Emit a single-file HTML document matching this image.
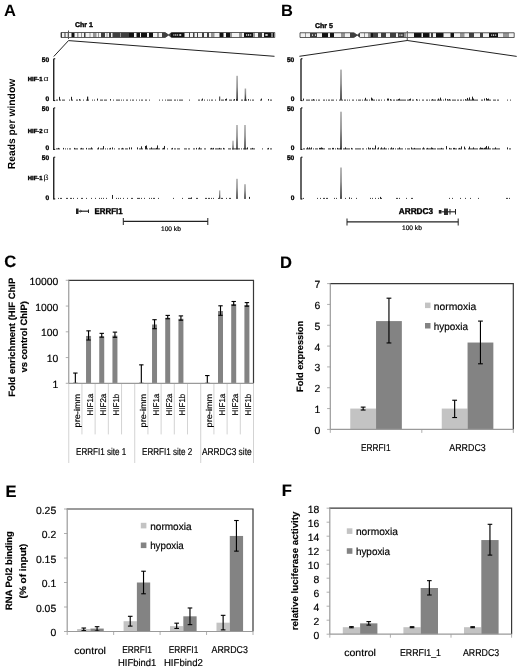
<!DOCTYPE html>
<html><head><meta charset="utf-8"><title>Figure</title><style>
html,body{margin:0;padding:0;background:#fff;width:520px;height:671px;overflow:hidden}
svg{display:block;filter:blur(0.4px)}
text{font-family:"Liberation Sans",sans-serif;fill:#000;text-rendering:geometricPrecision}
.sb{stroke:#000;stroke-width:0.35px}
.sr{stroke:#000;stroke-width:0.2px}
.ct text{stroke:#000;stroke-width:0.18px}
</style></head><body>
<svg width="520" height="671" viewBox="0 0 520 671">
<rect width="520" height="671" fill="#fff"/>
<clipPath id="c1"><path d="M61,32.5 H165.2 L168.6,35.0 L171.4,32.5 H274.75 V37.5 H171.4 L168.6,35.0 L165.2,37.5 H61 Z"/></clipPath>
<g clip-path="url(#c1)">
<rect x="61.00" y="32.50" width="213.75" height="5.00" fill="#f2f2f2"/>
<rect x="61.00" y="32.50" width="1.00" height="5.00" fill="#404040"/>
<rect x="64.00" y="32.50" width="2.00" height="5.00" fill="#959595"/>
<rect x="67.50" y="32.50" width="1.00" height="5.00" fill="#959595"/>
<rect x="71.50" y="32.50" width="3.00" height="5.00" fill="#111"/>
<rect x="77.00" y="32.50" width="1.50" height="5.00" fill="#959595"/>
<rect x="81.00" y="32.50" width="1.00" height="5.00" fill="#959595"/>
<rect x="84.00" y="32.50" width="1.50" height="5.00" fill="#404040"/>
<rect x="89.50" y="32.50" width="1.00" height="5.00" fill="#959595"/>
<rect x="93.00" y="32.50" width="3.50" height="5.00" fill="#959595"/>
<rect x="98.00" y="32.50" width="1.00" height="5.00" fill="#959595"/>
<rect x="101.00" y="32.50" width="4.00" height="5.00" fill="#404040"/>
<rect x="106.50" y="32.50" width="1.00" height="5.00" fill="#959595"/>
<rect x="109.00" y="32.50" width="2.00" height="5.00" fill="#404040"/>
<rect x="112.50" y="32.50" width="7.50" height="5.00" fill="#404040"/>
<rect x="120.00" y="32.50" width="1.00" height="5.00" fill="#959595"/>
<rect x="121.00" y="32.50" width="8.00" height="5.00" fill="#404040"/>
<rect x="129.00" y="32.50" width="5.00" height="5.00" fill="#111"/>
<rect x="136.50" y="32.50" width="3.50" height="5.00" fill="#111"/>
<rect x="141.00" y="32.50" width="6.00" height="5.00" fill="#111"/>
<rect x="149.00" y="32.50" width="4.00" height="5.00" fill="#111"/>
<rect x="157.00" y="32.50" width="2.00" height="5.00" fill="#959595"/>
<rect x="162.00" y="32.50" width="6.30" height="5.00" fill="#404040"/>
<rect x="168.30" y="32.50" width="2.70" height="5.00" fill="#404040"/>
<rect x="171.00" y="32.50" width="13.50" height="5.00" fill="#111"/>
<rect x="189.00" y="32.50" width="1.00" height="5.00" fill="#404040"/>
<rect x="193.00" y="32.50" width="1.50" height="5.00" fill="#404040"/>
<rect x="197.00" y="32.50" width="1.00" height="5.00" fill="#404040"/>
<rect x="202.00" y="32.50" width="2.00" height="5.00" fill="#404040"/>
<rect x="207.00" y="32.50" width="2.00" height="5.00" fill="#404040"/>
<rect x="211.00" y="32.50" width="3.50" height="5.00" fill="#959595"/>
<rect x="219.50" y="32.50" width="4.00" height="5.00" fill="#111"/>
<rect x="226.00" y="32.50" width="4.00" height="5.00" fill="#111"/>
<rect x="230.00" y="32.50" width="2.00" height="5.00" fill="#959595"/>
<rect x="239.00" y="32.50" width="3.00" height="5.00" fill="#959595"/>
<rect x="244.00" y="32.50" width="9.00" height="5.00" fill="#111"/>
<rect x="253.00" y="32.50" width="2.00" height="5.00" fill="#959595"/>
<rect x="258.00" y="32.50" width="4.00" height="5.00" fill="#404040"/>
<rect x="264.00" y="32.50" width="6.00" height="5.00" fill="#111"/>
<rect x="270.00" y="32.50" width="1.50" height="5.00" fill="#111"/>
<rect x="272.50" y="32.50" width="1.50" height="5.00" fill="#111"/>
<rect x="173.50" y="34.10" width="0.80" height="1.80" fill="#d8d8d8"/>
<rect x="175.30" y="34.10" width="1.00" height="1.80" fill="#d8d8d8"/>
<rect x="177.30" y="34.10" width="0.80" height="1.80" fill="#d8d8d8"/>
<rect x="179.30" y="34.10" width="1.90" height="1.80" fill="#d8d8d8"/>
<rect x="246.00" y="34.10" width="0.80" height="1.80" fill="#d8d8d8"/>
<rect x="247.80" y="34.10" width="1.40" height="1.80" fill="#d8d8d8"/>
<rect x="250.30" y="34.10" width="0.90" height="1.80" fill="#d8d8d8"/>
<rect x="265.30" y="34.10" width="0.60" height="1.80" fill="#d8d8d8"/>
<rect x="267.20" y="34.10" width="0.60" height="1.80" fill="#d8d8d8"/>
<rect x="265.90" y="34.10" width="1.30" height="1.80" fill="#d8d8d8"/>
</g>
<path d="M61,32.5 H165.2 L168.6,35.0 L171.4,32.5 H274.75 V37.5 H171.4 L168.6,35.0 L165.2,37.5 H61 Z" fill="none" stroke="#333" stroke-width="0.8" stroke-linejoin="miter"/>
<clipPath id="c5"><path d="M300,32.75 H353.90000000000003 L357.3,35.125 L360.1,32.75 H514.2 V37.5 H360.1 L357.3,35.125 L353.90000000000003,37.5 H300 Z"/></clipPath>
<g clip-path="url(#c5)">
<rect x="300.00" y="32.75" width="214.20" height="4.75" fill="#f2f2f2"/>
<rect x="305.00" y="32.75" width="1.00" height="4.75" fill="#959595"/>
<rect x="310.00" y="32.75" width="7.00" height="4.75" fill="#404040"/>
<rect x="322.00" y="32.75" width="6.00" height="4.75" fill="#111"/>
<rect x="330.00" y="32.75" width="4.00" height="4.75" fill="#111"/>
<rect x="341.00" y="32.75" width="4.00" height="4.75" fill="#959595"/>
<rect x="350.00" y="32.75" width="7.00" height="4.75" fill="#404040"/>
<rect x="357.50" y="32.75" width="2.50" height="4.75" fill="#404040"/>
<rect x="364.00" y="32.75" width="1.00" height="4.75" fill="#959595"/>
<rect x="368.00" y="32.75" width="2.50" height="4.75" fill="#959595"/>
<rect x="370.50" y="32.75" width="2.50" height="4.75" fill="#111"/>
<rect x="373.00" y="32.75" width="5.00" height="4.75" fill="#404040"/>
<rect x="381.00" y="32.75" width="5.00" height="4.75" fill="#404040"/>
<rect x="390.00" y="32.75" width="6.00" height="4.75" fill="#404040"/>
<rect x="398.00" y="32.75" width="6.00" height="4.75" fill="#404040"/>
<rect x="404.00" y="32.75" width="2.00" height="4.75" fill="#959595"/>
<rect x="414.00" y="32.75" width="7.50" height="4.75" fill="#111"/>
<rect x="423.00" y="32.75" width="6.50" height="4.75" fill="#111"/>
<rect x="431.00" y="32.75" width="2.00" height="4.75" fill="#404040"/>
<rect x="436.00" y="32.75" width="7.50" height="4.75" fill="#111"/>
<rect x="450.50" y="32.75" width="3.50" height="4.75" fill="#111"/>
<rect x="460.00" y="32.75" width="4.50" height="4.75" fill="#959595"/>
<rect x="469.00" y="32.75" width="5.00" height="4.75" fill="#404040"/>
<rect x="480.00" y="32.75" width="3.00" height="4.75" fill="#404040"/>
<rect x="489.00" y="32.75" width="9.00" height="4.75" fill="#111"/>
<rect x="503.00" y="32.75" width="6.00" height="4.75" fill="#959595"/>
<rect x="491.00" y="34.35" width="0.80" height="1.55" fill="#d8d8d8"/>
<rect x="492.80" y="34.35" width="1.40" height="1.55" fill="#d8d8d8"/>
<rect x="495.20" y="34.35" width="1.00" height="1.55" fill="#d8d8d8"/>
<rect x="399.50" y="34.35" width="0.80" height="1.55" fill="#d8d8d8"/>
<rect x="401.20" y="34.35" width="1.30" height="1.55" fill="#d8d8d8"/>
<rect x="315.00" y="34.35" width="1.00" height="1.55" fill="#d8d8d8"/>
<rect x="312.00" y="34.35" width="1.00" height="1.55" fill="#d8d8d8"/>
</g>
<path d="M300,32.75 H353.90000000000003 L357.3,35.125 L360.1,32.75 H514.2 V37.5 H360.1 L357.3,35.125 L353.90000000000003,37.5 H300 Z" fill="none" stroke="#333" stroke-width="0.8" stroke-linejoin="miter"/>
<line x1="68.5" y1="30.5" x2="68.5" y2="39" stroke="#555" stroke-width="1"/>
<line x1="407.25" y1="31" x2="407.25" y2="41" stroke="#555" stroke-width="1"/>
<polyline points="53.75,56.5 68.5,40.6 274.5,56.3" fill="none" stroke="#222" stroke-width="1"/>
<polyline points="299.4,56.3 407.25,40.5 516.7,56.4" fill="none" stroke="#222" stroke-width="1"/>
<text x="4" y="16" font-size="16.5" font-weight="bold" >A</text>
<text x="281" y="16" font-size="16.5" font-weight="bold" >B</text>
<text x="75" y="27.3" font-size="7" font-weight="bold" class="sb">Chr 1</text>
<text x="315" y="28.2" font-size="7" font-weight="bold" class="sb">Chr 5</text>
<defs><linearGradient id="pk" x1="0" y1="0" x2="0" y2="1"><stop offset="0" stop-color="#a8a8a8"/><stop offset="0.45" stop-color="#808080"/><stop offset="0.7" stop-color="#505050"/><stop offset="0.9" stop-color="#333"/><stop offset="1" stop-color="#1a1a1a"/></linearGradient></defs>
<line x1="53.75" y1="58.75" x2="53.75" y2="101.1" stroke="#111" stroke-width="1.3"/>
<line x1="53.75" y1="58.75" x2="55.25" y2="58.75" stroke="#111" stroke-width="1"/>
<line x1="53.75" y1="100.6" x2="55.25" y2="100.6" stroke="#111" stroke-width="1"/>
<text x="49.2" y="61.75" font-size="6.6" font-weight="bold" text-anchor="end" class="sb">50</text>
<text x="49.2" y="101.39999999999999" font-size="6.6" font-weight="bold" text-anchor="end" class="sb">0</text>
<text x="27.8" y="80.8" font-size="5.9" font-weight="bold" stroke="#000" stroke-width="0.4" textLength="14.7" lengthAdjust="spacing">HIF-1</text>
<text x="43.6" y="80.8" font-size="7.6" textLength="5.0" lengthAdjust="spacingAndGlyphs">α</text>
<line x1="301" y1="58.75" x2="301" y2="101.1" stroke="#111" stroke-width="1.3"/>
<line x1="301" y1="58.75" x2="302.5" y2="58.75" stroke="#111" stroke-width="1"/>
<line x1="301" y1="100.6" x2="302.5" y2="100.6" stroke="#111" stroke-width="1"/>
<text x="294.3" y="61.75" font-size="6.6" font-weight="bold" text-anchor="end" class="sb">50</text>
<text x="294.3" y="101.39999999999999" font-size="6.6" font-weight="bold" text-anchor="end" class="sb">0</text>
<rect x="56.00" y="99.60" width="1.00" height="1.00" fill="#3a3a3a"/>
<rect x="57.00" y="99.60" width="1.00" height="1.00" fill="#3a3a3a"/>
<rect x="59.00" y="96.84" width="1.00" height="3.76" fill="#222"/>
<rect x="60.00" y="99.60" width="1.00" height="1.00" fill="#3a3a3a"/>
<rect x="62.00" y="99.60" width="1.00" height="1.00" fill="#3a3a3a"/>
<rect x="63.00" y="99.60" width="1.00" height="1.00" fill="#3a3a3a"/>
<rect x="64.00" y="99.60" width="1.00" height="1.00" fill="#3a3a3a"/>
<rect x="69.00" y="99.60" width="1.00" height="1.00" fill="#3a3a3a"/>
<rect x="71.00" y="96.80" width="1.00" height="3.80" fill="#222"/>
<rect x="72.00" y="99.60" width="1.00" height="1.00" fill="#3a3a3a"/>
<rect x="76.00" y="99.60" width="1.00" height="1.00" fill="#3a3a3a"/>
<rect x="77.00" y="99.60" width="1.00" height="1.00" fill="#3a3a3a"/>
<rect x="79.00" y="99.10" width="1.00" height="1.50" fill="#222"/>
<rect x="80.00" y="99.60" width="1.00" height="1.00" fill="#3a3a3a"/>
<rect x="83.00" y="99.60" width="1.00" height="1.00" fill="#3a3a3a"/>
<rect x="86.00" y="99.60" width="1.00" height="1.00" fill="#3a3a3a"/>
<rect x="87.00" y="99.60" width="1.00" height="1.00" fill="#3a3a3a"/>
<rect x="88.00" y="99.60" width="1.00" height="1.00" fill="#3a3a3a"/>
<rect x="92.00" y="99.60" width="1.00" height="1.00" fill="#3a3a3a"/>
<rect x="94.00" y="99.60" width="1.00" height="1.00" fill="#3a3a3a"/>
<rect x="97.00" y="98.60" width="1.00" height="2.00" fill="#222"/>
<rect x="100.00" y="99.60" width="1.00" height="1.00" fill="#3a3a3a"/>
<rect x="101.00" y="99.60" width="1.00" height="1.00" fill="#3a3a3a"/>
<rect x="102.00" y="99.60" width="1.00" height="1.00" fill="#3a3a3a"/>
<rect x="104.00" y="99.60" width="1.00" height="1.00" fill="#3a3a3a"/>
<rect x="105.00" y="99.60" width="1.00" height="1.00" fill="#3a3a3a"/>
<rect x="106.00" y="99.60" width="1.00" height="1.00" fill="#3a3a3a"/>
<rect x="110.00" y="99.10" width="1.00" height="1.50" fill="#222"/>
<rect x="113.00" y="99.60" width="1.00" height="1.00" fill="#3a3a3a"/>
<rect x="116.00" y="99.60" width="1.00" height="1.00" fill="#3a3a3a"/>
<rect x="117.00" y="99.60" width="1.00" height="1.00" fill="#3a3a3a"/>
<rect x="118.00" y="99.60" width="1.00" height="1.00" fill="#3a3a3a"/>
<rect x="119.00" y="99.60" width="1.00" height="1.00" fill="#3a3a3a"/>
<rect x="121.00" y="99.60" width="1.00" height="1.00" fill="#3a3a3a"/>
<rect x="123.00" y="99.60" width="1.00" height="1.00" fill="#3a3a3a"/>
<rect x="126.00" y="99.60" width="1.00" height="1.00" fill="#3a3a3a"/>
<rect x="127.00" y="99.60" width="1.00" height="1.00" fill="#3a3a3a"/>
<rect x="130.00" y="99.60" width="1.00" height="1.00" fill="#3a3a3a"/>
<rect x="132.00" y="99.60" width="1.00" height="1.00" fill="#3a3a3a"/>
<rect x="133.00" y="99.60" width="1.00" height="1.00" fill="#3a3a3a"/>
<rect x="136.00" y="99.60" width="1.00" height="1.00" fill="#3a3a3a"/>
<rect x="139.00" y="99.60" width="1.00" height="1.00" fill="#3a3a3a"/>
<rect x="141.00" y="99.60" width="1.00" height="1.00" fill="#3a3a3a"/>
<rect x="142.00" y="99.60" width="1.00" height="1.00" fill="#3a3a3a"/>
<rect x="145.00" y="99.60" width="1.00" height="1.00" fill="#3a3a3a"/>
<rect x="146.00" y="99.60" width="1.00" height="1.00" fill="#3a3a3a"/>
<rect x="149.00" y="99.60" width="1.00" height="1.00" fill="#3a3a3a"/>
<rect x="159.00" y="99.60" width="1.00" height="1.00" fill="#3a3a3a"/>
<rect x="162.00" y="99.60" width="1.00" height="1.00" fill="#3a3a3a"/>
<rect x="165.00" y="99.60" width="1.00" height="1.00" fill="#3a3a3a"/>
<rect x="167.00" y="99.60" width="1.00" height="1.00" fill="#3a3a3a"/>
<rect x="168.00" y="99.60" width="1.00" height="1.00" fill="#3a3a3a"/>
<rect x="169.00" y="99.60" width="1.00" height="1.00" fill="#3a3a3a"/>
<rect x="170.00" y="99.60" width="1.00" height="1.00" fill="#3a3a3a"/>
<rect x="171.00" y="99.60" width="1.00" height="1.00" fill="#3a3a3a"/>
<rect x="174.00" y="99.60" width="1.00" height="1.00" fill="#3a3a3a"/>
<rect x="175.00" y="99.60" width="1.00" height="1.00" fill="#3a3a3a"/>
<rect x="177.00" y="99.60" width="1.00" height="1.00" fill="#3a3a3a"/>
<rect x="179.00" y="99.60" width="1.00" height="1.00" fill="#3a3a3a"/>
<rect x="180.00" y="99.60" width="1.00" height="1.00" fill="#3a3a3a"/>
<rect x="181.00" y="99.60" width="1.00" height="1.00" fill="#3a3a3a"/>
<rect x="182.00" y="99.60" width="1.00" height="1.00" fill="#3a3a3a"/>
<rect x="189.00" y="99.60" width="1.00" height="1.00" fill="#3a3a3a"/>
<rect x="198.00" y="99.60" width="1.00" height="1.00" fill="#3a3a3a"/>
<rect x="199.00" y="99.60" width="1.00" height="1.00" fill="#3a3a3a"/>
<rect x="201.00" y="99.60" width="1.00" height="1.00" fill="#3a3a3a"/>
<rect x="202.00" y="98.60" width="1.00" height="2.00" fill="#222"/>
<rect x="204.00" y="99.60" width="1.00" height="1.00" fill="#3a3a3a"/>
<rect x="207.00" y="99.60" width="1.00" height="1.00" fill="#3a3a3a"/>
<rect x="209.00" y="99.60" width="1.00" height="1.00" fill="#3a3a3a"/>
<rect x="211.00" y="99.60" width="1.00" height="1.00" fill="#3a3a3a"/>
<rect x="212.00" y="99.60" width="1.00" height="1.00" fill="#3a3a3a"/>
<rect x="215.00" y="99.60" width="1.00" height="1.00" fill="#3a3a3a"/>
<rect x="219.00" y="99.60" width="1.00" height="1.00" fill="#3a3a3a"/>
<rect x="221.00" y="99.60" width="1.00" height="1.00" fill="#3a3a3a"/>
<rect x="222.00" y="99.60" width="1.00" height="1.00" fill="#3a3a3a"/>
<rect x="223.00" y="99.60" width="1.00" height="1.00" fill="#3a3a3a"/>
<rect x="225.00" y="99.10" width="1.00" height="1.50" fill="#222"/>
<rect x="226.00" y="98.60" width="1.00" height="2.00" fill="#222"/>
<rect x="229.00" y="99.60" width="1.00" height="1.00" fill="#3a3a3a"/>
<rect x="230.00" y="99.60" width="1.00" height="1.00" fill="#3a3a3a"/>
<rect x="231.00" y="99.60" width="1.00" height="1.00" fill="#3a3a3a"/>
<rect x="233.00" y="99.60" width="1.00" height="1.00" fill="#3a3a3a"/>
<rect x="234.00" y="99.10" width="1.00" height="1.50" fill="#222"/>
<rect x="236.00" y="99.10" width="1.00" height="1.50" fill="#222"/>
<rect x="237.00" y="99.60" width="1.00" height="1.00" fill="#3a3a3a"/>
<rect x="241.00" y="99.60" width="1.00" height="1.00" fill="#3a3a3a"/>
<rect x="242.00" y="99.60" width="1.00" height="1.00" fill="#3a3a3a"/>
<rect x="244.00" y="99.60" width="1.00" height="1.00" fill="#3a3a3a"/>
<rect x="245.00" y="97.77" width="1.00" height="2.83" fill="#222"/>
<rect x="246.00" y="99.60" width="1.00" height="1.00" fill="#3a3a3a"/>
<rect x="248.00" y="99.10" width="1.00" height="1.50" fill="#222"/>
<rect x="250.00" y="99.60" width="1.00" height="1.00" fill="#3a3a3a"/>
<rect x="252.00" y="99.60" width="1.00" height="1.00" fill="#3a3a3a"/>
<rect x="253.00" y="99.60" width="1.00" height="1.00" fill="#3a3a3a"/>
<rect x="260.00" y="99.60" width="1.00" height="1.00" fill="#3a3a3a"/>
<rect x="261.00" y="98.60" width="1.00" height="2.00" fill="#222"/>
<rect x="268.00" y="99.10" width="1.00" height="1.50" fill="#222"/>
<rect x="270.00" y="99.60" width="1.00" height="1.00" fill="#3a3a3a"/>
<rect x="271.00" y="99.60" width="1.00" height="1.00" fill="#3a3a3a"/>
<rect x="303.00" y="98.60" width="1.00" height="2.00" fill="#222"/>
<rect x="306.00" y="99.60" width="1.00" height="1.00" fill="#3a3a3a"/>
<rect x="307.00" y="99.60" width="1.00" height="1.00" fill="#3a3a3a"/>
<rect x="308.00" y="99.60" width="1.00" height="1.00" fill="#3a3a3a"/>
<rect x="309.00" y="99.60" width="1.00" height="1.00" fill="#3a3a3a"/>
<rect x="311.00" y="99.60" width="1.00" height="1.00" fill="#3a3a3a"/>
<rect x="312.00" y="99.60" width="1.00" height="1.00" fill="#3a3a3a"/>
<rect x="313.00" y="99.10" width="1.00" height="1.50" fill="#222"/>
<rect x="314.00" y="99.60" width="1.00" height="1.00" fill="#3a3a3a"/>
<rect x="316.00" y="99.60" width="1.00" height="1.00" fill="#3a3a3a"/>
<rect x="318.00" y="99.60" width="1.00" height="1.00" fill="#3a3a3a"/>
<rect x="319.00" y="99.60" width="1.00" height="1.00" fill="#3a3a3a"/>
<rect x="323.00" y="99.60" width="1.00" height="1.00" fill="#3a3a3a"/>
<rect x="324.00" y="99.60" width="1.00" height="1.00" fill="#3a3a3a"/>
<rect x="326.00" y="99.60" width="1.00" height="1.00" fill="#3a3a3a"/>
<rect x="328.00" y="99.60" width="1.00" height="1.00" fill="#3a3a3a"/>
<rect x="329.00" y="99.60" width="1.00" height="1.00" fill="#3a3a3a"/>
<rect x="331.00" y="99.60" width="1.00" height="1.00" fill="#3a3a3a"/>
<rect x="332.00" y="99.60" width="1.00" height="1.00" fill="#3a3a3a"/>
<rect x="333.00" y="99.60" width="1.00" height="1.00" fill="#3a3a3a"/>
<rect x="336.00" y="99.60" width="1.00" height="1.00" fill="#3a3a3a"/>
<rect x="339.00" y="99.60" width="1.00" height="1.00" fill="#3a3a3a"/>
<rect x="342.00" y="99.60" width="1.00" height="1.00" fill="#3a3a3a"/>
<rect x="344.00" y="99.60" width="1.00" height="1.00" fill="#3a3a3a"/>
<rect x="345.00" y="99.60" width="1.00" height="1.00" fill="#3a3a3a"/>
<rect x="347.00" y="99.60" width="1.00" height="1.00" fill="#3a3a3a"/>
<rect x="349.00" y="99.60" width="1.00" height="1.00" fill="#3a3a3a"/>
<rect x="352.00" y="99.60" width="1.00" height="1.00" fill="#3a3a3a"/>
<rect x="353.00" y="99.60" width="1.00" height="1.00" fill="#3a3a3a"/>
<rect x="356.00" y="99.60" width="1.00" height="1.00" fill="#3a3a3a"/>
<rect x="358.00" y="99.60" width="1.00" height="1.00" fill="#3a3a3a"/>
<rect x="359.00" y="99.60" width="1.00" height="1.00" fill="#3a3a3a"/>
<rect x="360.00" y="99.60" width="1.00" height="1.00" fill="#3a3a3a"/>
<rect x="362.00" y="99.60" width="1.00" height="1.00" fill="#3a3a3a"/>
<rect x="364.00" y="99.60" width="1.00" height="1.00" fill="#3a3a3a"/>
<rect x="365.00" y="97.83" width="1.00" height="2.77" fill="#222"/>
<rect x="366.00" y="99.60" width="1.00" height="1.00" fill="#3a3a3a"/>
<rect x="367.00" y="99.60" width="1.00" height="1.00" fill="#3a3a3a"/>
<rect x="369.00" y="99.60" width="1.00" height="1.00" fill="#3a3a3a"/>
<rect x="371.00" y="97.60" width="1.00" height="3.00" fill="#222"/>
<rect x="372.00" y="98.60" width="1.00" height="2.00" fill="#222"/>
<rect x="373.00" y="99.60" width="1.00" height="1.00" fill="#3a3a3a"/>
<rect x="374.00" y="99.60" width="1.00" height="1.00" fill="#3a3a3a"/>
<rect x="376.00" y="99.60" width="1.00" height="1.00" fill="#3a3a3a"/>
<rect x="378.00" y="99.60" width="1.00" height="1.00" fill="#3a3a3a"/>
<rect x="379.00" y="99.60" width="1.00" height="1.00" fill="#3a3a3a"/>
<rect x="381.00" y="99.60" width="1.00" height="1.00" fill="#3a3a3a"/>
<rect x="384.00" y="99.60" width="1.00" height="1.00" fill="#3a3a3a"/>
<rect x="387.00" y="98.60" width="1.00" height="2.00" fill="#222"/>
<rect x="388.00" y="98.60" width="1.00" height="2.00" fill="#222"/>
<rect x="390.00" y="99.10" width="1.00" height="1.50" fill="#222"/>
<rect x="391.00" y="99.60" width="1.00" height="1.00" fill="#3a3a3a"/>
<rect x="393.00" y="99.60" width="1.00" height="1.00" fill="#3a3a3a"/>
<rect x="394.00" y="99.60" width="1.00" height="1.00" fill="#3a3a3a"/>
<rect x="396.00" y="99.60" width="1.00" height="1.00" fill="#3a3a3a"/>
<rect x="397.00" y="99.60" width="1.00" height="1.00" fill="#3a3a3a"/>
<rect x="398.00" y="99.10" width="1.00" height="1.50" fill="#222"/>
<rect x="399.00" y="98.60" width="1.00" height="2.00" fill="#222"/>
<rect x="400.00" y="99.60" width="1.00" height="1.00" fill="#3a3a3a"/>
<rect x="401.00" y="99.60" width="1.00" height="1.00" fill="#3a3a3a"/>
<rect x="402.00" y="99.60" width="1.00" height="1.00" fill="#3a3a3a"/>
<rect x="403.00" y="99.60" width="1.00" height="1.00" fill="#3a3a3a"/>
<rect x="404.00" y="99.60" width="1.00" height="1.00" fill="#3a3a3a"/>
<rect x="405.00" y="99.60" width="1.00" height="1.00" fill="#3a3a3a"/>
<rect x="407.00" y="99.60" width="1.00" height="1.00" fill="#3a3a3a"/>
<rect x="408.00" y="99.60" width="1.00" height="1.00" fill="#3a3a3a"/>
<rect x="409.00" y="99.10" width="1.00" height="1.50" fill="#222"/>
<rect x="410.00" y="98.60" width="1.00" height="2.00" fill="#222"/>
<rect x="412.00" y="99.60" width="1.00" height="1.00" fill="#3a3a3a"/>
<rect x="413.00" y="99.60" width="1.00" height="1.00" fill="#3a3a3a"/>
<rect x="416.00" y="99.10" width="1.00" height="1.50" fill="#222"/>
<rect x="417.00" y="99.60" width="1.00" height="1.00" fill="#3a3a3a"/>
<rect x="419.00" y="99.60" width="1.00" height="1.00" fill="#3a3a3a"/>
<rect x="422.00" y="99.60" width="1.00" height="1.00" fill="#3a3a3a"/>
<rect x="423.00" y="99.60" width="1.00" height="1.00" fill="#3a3a3a"/>
<rect x="426.00" y="99.60" width="1.00" height="1.00" fill="#3a3a3a"/>
<rect x="427.00" y="99.60" width="1.00" height="1.00" fill="#3a3a3a"/>
<rect x="429.00" y="99.60" width="1.00" height="1.00" fill="#3a3a3a"/>
<rect x="431.00" y="99.60" width="1.00" height="1.00" fill="#3a3a3a"/>
<rect x="432.00" y="99.10" width="1.00" height="1.50" fill="#222"/>
<rect x="433.00" y="99.60" width="1.00" height="1.00" fill="#3a3a3a"/>
<rect x="434.00" y="99.60" width="1.00" height="1.00" fill="#3a3a3a"/>
<rect x="435.00" y="99.60" width="1.00" height="1.00" fill="#3a3a3a"/>
<rect x="437.00" y="99.60" width="1.00" height="1.00" fill="#3a3a3a"/>
<rect x="438.00" y="98.60" width="1.00" height="2.00" fill="#222"/>
<rect x="439.00" y="99.60" width="1.00" height="1.00" fill="#3a3a3a"/>
<rect x="440.00" y="97.59" width="1.00" height="3.01" fill="#222"/>
<rect x="441.00" y="99.60" width="1.00" height="1.00" fill="#3a3a3a"/>
<rect x="443.00" y="99.60" width="1.00" height="1.00" fill="#3a3a3a"/>
<rect x="445.00" y="98.60" width="1.00" height="2.00" fill="#222"/>
<rect x="447.00" y="99.10" width="1.00" height="1.50" fill="#222"/>
<rect x="448.00" y="99.60" width="1.00" height="1.00" fill="#3a3a3a"/>
<rect x="449.00" y="99.10" width="1.00" height="1.50" fill="#222"/>
<rect x="450.00" y="99.60" width="1.00" height="1.00" fill="#3a3a3a"/>
<rect x="452.00" y="99.60" width="1.00" height="1.00" fill="#3a3a3a"/>
<rect x="453.00" y="99.60" width="1.00" height="1.00" fill="#3a3a3a"/>
<rect x="454.00" y="99.60" width="1.00" height="1.00" fill="#3a3a3a"/>
<rect x="455.00" y="99.60" width="1.00" height="1.00" fill="#3a3a3a"/>
<rect x="457.00" y="99.60" width="1.00" height="1.00" fill="#3a3a3a"/>
<rect x="458.00" y="99.60" width="1.00" height="1.00" fill="#3a3a3a"/>
<rect x="460.00" y="99.60" width="1.00" height="1.00" fill="#3a3a3a"/>
<rect x="461.00" y="99.60" width="1.00" height="1.00" fill="#3a3a3a"/>
<rect x="463.00" y="99.60" width="1.00" height="1.00" fill="#3a3a3a"/>
<rect x="465.00" y="99.10" width="1.00" height="1.50" fill="#222"/>
<rect x="466.00" y="99.60" width="1.00" height="1.00" fill="#3a3a3a"/>
<rect x="467.00" y="97.93" width="1.00" height="2.67" fill="#222"/>
<rect x="468.00" y="99.60" width="1.00" height="1.00" fill="#3a3a3a"/>
<rect x="469.00" y="97.43" width="1.00" height="3.17" fill="#222"/>
<rect x="470.00" y="99.60" width="1.00" height="1.00" fill="#3a3a3a"/>
<rect x="471.00" y="99.60" width="1.00" height="1.00" fill="#3a3a3a"/>
<rect x="472.00" y="96.65" width="1.00" height="3.95" fill="#222"/>
<rect x="473.00" y="98.60" width="1.00" height="2.00" fill="#222"/>
<rect x="474.00" y="99.60" width="1.00" height="1.00" fill="#3a3a3a"/>
<rect x="475.00" y="99.60" width="1.00" height="1.00" fill="#3a3a3a"/>
<rect x="476.00" y="99.60" width="1.00" height="1.00" fill="#3a3a3a"/>
<rect x="477.00" y="99.60" width="1.00" height="1.00" fill="#3a3a3a"/>
<rect x="481.00" y="99.60" width="1.00" height="1.00" fill="#3a3a3a"/>
<rect x="482.00" y="99.60" width="1.00" height="1.00" fill="#3a3a3a"/>
<rect x="484.00" y="98.60" width="1.00" height="2.00" fill="#222"/>
<rect x="486.00" y="98.05" width="1.00" height="2.55" fill="#222"/>
<rect x="487.00" y="99.10" width="1.00" height="1.50" fill="#222"/>
<rect x="488.00" y="98.60" width="1.00" height="2.00" fill="#222"/>
<rect x="489.00" y="99.60" width="1.00" height="1.00" fill="#3a3a3a"/>
<rect x="490.00" y="99.60" width="1.00" height="1.00" fill="#3a3a3a"/>
<rect x="493.00" y="99.60" width="1.00" height="1.00" fill="#3a3a3a"/>
<rect x="494.00" y="99.60" width="1.00" height="1.00" fill="#3a3a3a"/>
<rect x="495.00" y="99.60" width="1.00" height="1.00" fill="#3a3a3a"/>
<rect x="497.00" y="99.60" width="1.00" height="1.00" fill="#3a3a3a"/>
<rect x="498.00" y="99.60" width="1.00" height="1.00" fill="#3a3a3a"/>
<rect x="507.00" y="99.60" width="1.00" height="1.00" fill="#3a3a3a"/>
<rect x="510.00" y="99.60" width="1.00" height="1.00" fill="#3a3a3a"/>
<line x1="53.75" y1="107.9" x2="53.75" y2="149.9" stroke="#111" stroke-width="1.3"/>
<line x1="53.75" y1="107.9" x2="55.25" y2="107.9" stroke="#111" stroke-width="1"/>
<line x1="53.75" y1="149.4" x2="55.25" y2="149.4" stroke="#111" stroke-width="1"/>
<text x="49.2" y="110.7" font-size="6.6" font-weight="bold" text-anchor="end" class="sb">50</text>
<text x="49.2" y="150.10000000000002" font-size="6.6" font-weight="bold" text-anchor="end" class="sb">0</text>
<text x="27.8" y="132.6" font-size="5.9" font-weight="bold" stroke="#000" stroke-width="0.4" textLength="14.7" lengthAdjust="spacing">HIF-2</text>
<text x="43.6" y="132.6" font-size="7.6" textLength="5.0" lengthAdjust="spacingAndGlyphs">α</text>
<line x1="301" y1="107.9" x2="301" y2="149.9" stroke="#111" stroke-width="1.3"/>
<line x1="301" y1="107.9" x2="302.5" y2="107.9" stroke="#111" stroke-width="1"/>
<line x1="301" y1="149.4" x2="302.5" y2="149.4" stroke="#111" stroke-width="1"/>
<text x="294.3" y="110.7" font-size="6.6" font-weight="bold" text-anchor="end" class="sb">50</text>
<text x="294.3" y="150.10000000000002" font-size="6.6" font-weight="bold" text-anchor="end" class="sb">0</text>
<rect x="56.00" y="148.40" width="1.00" height="1.00" fill="#3a3a3a"/>
<rect x="57.00" y="148.40" width="1.00" height="1.00" fill="#3a3a3a"/>
<rect x="58.00" y="147.90" width="1.00" height="1.50" fill="#222"/>
<rect x="59.00" y="148.40" width="1.00" height="1.00" fill="#3a3a3a"/>
<rect x="63.00" y="147.90" width="1.00" height="1.50" fill="#222"/>
<rect x="65.00" y="148.40" width="1.00" height="1.00" fill="#3a3a3a"/>
<rect x="67.00" y="148.40" width="1.00" height="1.00" fill="#3a3a3a"/>
<rect x="69.00" y="148.40" width="1.00" height="1.00" fill="#3a3a3a"/>
<rect x="70.00" y="148.40" width="1.00" height="1.00" fill="#3a3a3a"/>
<rect x="74.00" y="147.90" width="1.00" height="1.50" fill="#222"/>
<rect x="75.00" y="148.40" width="1.00" height="1.00" fill="#3a3a3a"/>
<rect x="76.00" y="148.40" width="1.00" height="1.00" fill="#3a3a3a"/>
<rect x="77.00" y="148.40" width="1.00" height="1.00" fill="#3a3a3a"/>
<rect x="80.00" y="148.40" width="1.00" height="1.00" fill="#3a3a3a"/>
<rect x="81.00" y="147.90" width="1.00" height="1.50" fill="#222"/>
<rect x="82.00" y="148.40" width="1.00" height="1.00" fill="#3a3a3a"/>
<rect x="83.00" y="148.40" width="1.00" height="1.00" fill="#3a3a3a"/>
<rect x="86.00" y="147.90" width="1.00" height="1.50" fill="#222"/>
<rect x="88.00" y="148.40" width="1.00" height="1.00" fill="#3a3a3a"/>
<rect x="89.00" y="148.40" width="1.00" height="1.00" fill="#3a3a3a"/>
<rect x="90.00" y="148.40" width="1.00" height="1.00" fill="#3a3a3a"/>
<rect x="91.00" y="147.40" width="1.00" height="2.00" fill="#222"/>
<rect x="92.00" y="148.40" width="1.00" height="1.00" fill="#3a3a3a"/>
<rect x="97.00" y="148.40" width="1.00" height="1.00" fill="#3a3a3a"/>
<rect x="98.00" y="147.40" width="1.00" height="2.00" fill="#222"/>
<rect x="100.00" y="148.40" width="1.00" height="1.00" fill="#3a3a3a"/>
<rect x="101.00" y="148.40" width="1.00" height="1.00" fill="#3a3a3a"/>
<rect x="102.00" y="148.40" width="1.00" height="1.00" fill="#3a3a3a"/>
<rect x="103.00" y="146.07" width="1.00" height="3.33" fill="#222"/>
<rect x="105.00" y="148.40" width="1.00" height="1.00" fill="#3a3a3a"/>
<rect x="107.00" y="148.40" width="1.00" height="1.00" fill="#3a3a3a"/>
<rect x="109.00" y="148.40" width="1.00" height="1.00" fill="#3a3a3a"/>
<rect x="110.00" y="147.90" width="1.00" height="1.50" fill="#222"/>
<rect x="112.00" y="147.40" width="1.00" height="2.00" fill="#222"/>
<rect x="114.00" y="148.40" width="1.00" height="1.00" fill="#3a3a3a"/>
<rect x="118.00" y="148.40" width="1.00" height="1.00" fill="#3a3a3a"/>
<rect x="119.00" y="148.40" width="1.00" height="1.00" fill="#3a3a3a"/>
<rect x="121.00" y="148.40" width="1.00" height="1.00" fill="#3a3a3a"/>
<rect x="122.00" y="147.90" width="1.00" height="1.50" fill="#222"/>
<rect x="123.00" y="148.40" width="1.00" height="1.00" fill="#3a3a3a"/>
<rect x="125.00" y="148.40" width="1.00" height="1.00" fill="#3a3a3a"/>
<rect x="126.00" y="148.40" width="1.00" height="1.00" fill="#3a3a3a"/>
<rect x="127.00" y="148.40" width="1.00" height="1.00" fill="#3a3a3a"/>
<rect x="129.00" y="147.40" width="1.00" height="2.00" fill="#222"/>
<rect x="131.00" y="147.40" width="1.00" height="2.00" fill="#222"/>
<rect x="137.00" y="147.40" width="1.00" height="2.00" fill="#222"/>
<rect x="139.00" y="148.40" width="1.00" height="1.00" fill="#3a3a3a"/>
<rect x="140.00" y="148.40" width="1.00" height="1.00" fill="#3a3a3a"/>
<rect x="141.00" y="146.34" width="1.00" height="3.06" fill="#222"/>
<rect x="142.00" y="148.40" width="1.00" height="1.00" fill="#3a3a3a"/>
<rect x="145.00" y="145.96" width="1.00" height="3.44" fill="#222"/>
<rect x="146.00" y="145.47" width="1.00" height="3.93" fill="#222"/>
<rect x="147.00" y="148.40" width="1.00" height="1.00" fill="#3a3a3a"/>
<rect x="149.00" y="148.40" width="1.00" height="1.00" fill="#3a3a3a"/>
<rect x="150.00" y="148.40" width="1.00" height="1.00" fill="#3a3a3a"/>
<rect x="151.00" y="147.40" width="1.00" height="2.00" fill="#222"/>
<rect x="152.00" y="148.40" width="1.00" height="1.00" fill="#3a3a3a"/>
<rect x="153.00" y="148.40" width="1.00" height="1.00" fill="#3a3a3a"/>
<rect x="154.00" y="148.40" width="1.00" height="1.00" fill="#3a3a3a"/>
<rect x="155.00" y="148.40" width="1.00" height="1.00" fill="#3a3a3a"/>
<rect x="156.00" y="147.90" width="1.00" height="1.50" fill="#222"/>
<rect x="157.00" y="145.41" width="1.00" height="3.99" fill="#222"/>
<rect x="158.00" y="148.40" width="1.00" height="1.00" fill="#3a3a3a"/>
<rect x="159.00" y="148.40" width="1.00" height="1.00" fill="#3a3a3a"/>
<rect x="162.00" y="148.40" width="1.00" height="1.00" fill="#3a3a3a"/>
<rect x="163.00" y="147.90" width="1.00" height="1.50" fill="#222"/>
<rect x="164.00" y="145.94" width="1.00" height="3.46" fill="#222"/>
<rect x="167.00" y="148.40" width="1.00" height="1.00" fill="#3a3a3a"/>
<rect x="171.00" y="148.40" width="1.00" height="1.00" fill="#3a3a3a"/>
<rect x="172.00" y="147.90" width="1.00" height="1.50" fill="#222"/>
<rect x="174.00" y="148.40" width="1.00" height="1.00" fill="#3a3a3a"/>
<rect x="175.00" y="148.40" width="1.00" height="1.00" fill="#3a3a3a"/>
<rect x="177.00" y="148.40" width="1.00" height="1.00" fill="#3a3a3a"/>
<rect x="178.00" y="148.40" width="1.00" height="1.00" fill="#3a3a3a"/>
<rect x="179.00" y="148.40" width="1.00" height="1.00" fill="#3a3a3a"/>
<rect x="184.00" y="148.40" width="1.00" height="1.00" fill="#3a3a3a"/>
<rect x="185.00" y="148.40" width="1.00" height="1.00" fill="#3a3a3a"/>
<rect x="186.00" y="148.40" width="1.00" height="1.00" fill="#3a3a3a"/>
<rect x="188.00" y="148.40" width="1.00" height="1.00" fill="#3a3a3a"/>
<rect x="189.00" y="148.40" width="1.00" height="1.00" fill="#3a3a3a"/>
<rect x="193.00" y="148.40" width="1.00" height="1.00" fill="#3a3a3a"/>
<rect x="194.00" y="148.40" width="1.00" height="1.00" fill="#3a3a3a"/>
<rect x="196.00" y="147.90" width="1.00" height="1.50" fill="#222"/>
<rect x="198.00" y="148.40" width="1.00" height="1.00" fill="#3a3a3a"/>
<rect x="199.00" y="147.40" width="1.00" height="2.00" fill="#222"/>
<rect x="200.00" y="148.40" width="1.00" height="1.00" fill="#3a3a3a"/>
<rect x="201.00" y="148.40" width="1.00" height="1.00" fill="#3a3a3a"/>
<rect x="204.00" y="148.40" width="1.00" height="1.00" fill="#3a3a3a"/>
<rect x="205.00" y="148.40" width="1.00" height="1.00" fill="#3a3a3a"/>
<rect x="210.00" y="148.40" width="1.00" height="1.00" fill="#3a3a3a"/>
<rect x="211.00" y="147.90" width="1.00" height="1.50" fill="#222"/>
<rect x="212.00" y="148.40" width="1.00" height="1.00" fill="#3a3a3a"/>
<rect x="213.00" y="147.90" width="1.00" height="1.50" fill="#222"/>
<rect x="215.00" y="148.40" width="1.00" height="1.00" fill="#3a3a3a"/>
<rect x="216.00" y="148.40" width="1.00" height="1.00" fill="#3a3a3a"/>
<rect x="217.00" y="148.40" width="1.00" height="1.00" fill="#3a3a3a"/>
<rect x="218.00" y="148.40" width="1.00" height="1.00" fill="#3a3a3a"/>
<rect x="219.00" y="147.90" width="1.00" height="1.50" fill="#222"/>
<rect x="220.00" y="148.40" width="1.00" height="1.00" fill="#3a3a3a"/>
<rect x="221.00" y="148.40" width="1.00" height="1.00" fill="#3a3a3a"/>
<rect x="223.00" y="147.90" width="1.00" height="1.50" fill="#222"/>
<rect x="224.00" y="148.40" width="1.00" height="1.00" fill="#3a3a3a"/>
<rect x="228.00" y="148.40" width="1.00" height="1.00" fill="#3a3a3a"/>
<rect x="229.00" y="148.40" width="1.00" height="1.00" fill="#3a3a3a"/>
<rect x="230.00" y="148.40" width="1.00" height="1.00" fill="#3a3a3a"/>
<rect x="232.00" y="148.40" width="1.00" height="1.00" fill="#3a3a3a"/>
<rect x="233.00" y="148.40" width="1.00" height="1.00" fill="#3a3a3a"/>
<rect x="234.00" y="148.40" width="1.00" height="1.00" fill="#3a3a3a"/>
<rect x="235.00" y="148.40" width="1.00" height="1.00" fill="#3a3a3a"/>
<rect x="236.00" y="148.40" width="1.00" height="1.00" fill="#3a3a3a"/>
<rect x="237.00" y="148.40" width="1.00" height="1.00" fill="#3a3a3a"/>
<rect x="238.00" y="148.40" width="1.00" height="1.00" fill="#3a3a3a"/>
<rect x="239.00" y="148.40" width="1.00" height="1.00" fill="#3a3a3a"/>
<rect x="241.00" y="148.40" width="1.00" height="1.00" fill="#3a3a3a"/>
<rect x="243.00" y="148.40" width="1.00" height="1.00" fill="#3a3a3a"/>
<rect x="244.00" y="148.40" width="1.00" height="1.00" fill="#3a3a3a"/>
<rect x="245.00" y="148.40" width="1.00" height="1.00" fill="#3a3a3a"/>
<rect x="246.00" y="148.40" width="1.00" height="1.00" fill="#3a3a3a"/>
<rect x="247.00" y="147.40" width="1.00" height="2.00" fill="#222"/>
<rect x="250.00" y="148.40" width="1.00" height="1.00" fill="#3a3a3a"/>
<rect x="251.00" y="148.40" width="1.00" height="1.00" fill="#3a3a3a"/>
<rect x="252.00" y="147.90" width="1.00" height="1.50" fill="#222"/>
<rect x="253.00" y="148.40" width="1.00" height="1.00" fill="#3a3a3a"/>
<rect x="254.00" y="148.40" width="1.00" height="1.00" fill="#3a3a3a"/>
<rect x="262.00" y="148.40" width="1.00" height="1.00" fill="#3a3a3a"/>
<rect x="267.00" y="148.40" width="1.00" height="1.00" fill="#3a3a3a"/>
<rect x="268.00" y="147.90" width="1.00" height="1.50" fill="#222"/>
<rect x="270.00" y="148.40" width="1.00" height="1.00" fill="#3a3a3a"/>
<rect x="271.00" y="148.40" width="1.00" height="1.00" fill="#3a3a3a"/>
<rect x="303.00" y="148.40" width="1.00" height="1.00" fill="#3a3a3a"/>
<rect x="304.00" y="148.40" width="1.00" height="1.00" fill="#3a3a3a"/>
<rect x="306.00" y="148.40" width="1.00" height="1.00" fill="#3a3a3a"/>
<rect x="307.00" y="147.40" width="1.00" height="2.00" fill="#222"/>
<rect x="308.00" y="148.40" width="1.00" height="1.00" fill="#3a3a3a"/>
<rect x="309.00" y="147.40" width="1.00" height="2.00" fill="#222"/>
<rect x="310.00" y="148.40" width="1.00" height="1.00" fill="#3a3a3a"/>
<rect x="311.00" y="147.40" width="1.00" height="2.00" fill="#222"/>
<rect x="313.00" y="148.40" width="1.00" height="1.00" fill="#3a3a3a"/>
<rect x="315.00" y="148.40" width="1.00" height="1.00" fill="#3a3a3a"/>
<rect x="316.00" y="148.40" width="1.00" height="1.00" fill="#3a3a3a"/>
<rect x="317.00" y="148.40" width="1.00" height="1.00" fill="#3a3a3a"/>
<rect x="319.00" y="147.90" width="1.00" height="1.50" fill="#222"/>
<rect x="320.00" y="147.90" width="1.00" height="1.50" fill="#222"/>
<rect x="321.00" y="147.40" width="1.00" height="2.00" fill="#222"/>
<rect x="322.00" y="147.90" width="1.00" height="1.50" fill="#222"/>
<rect x="323.00" y="148.40" width="1.00" height="1.00" fill="#3a3a3a"/>
<rect x="324.00" y="148.40" width="1.00" height="1.00" fill="#3a3a3a"/>
<rect x="328.00" y="148.40" width="1.00" height="1.00" fill="#3a3a3a"/>
<rect x="329.00" y="148.40" width="1.00" height="1.00" fill="#3a3a3a"/>
<rect x="330.00" y="148.40" width="1.00" height="1.00" fill="#3a3a3a"/>
<rect x="332.00" y="147.90" width="1.00" height="1.50" fill="#222"/>
<rect x="333.00" y="147.90" width="1.00" height="1.50" fill="#222"/>
<rect x="335.00" y="148.40" width="1.00" height="1.00" fill="#3a3a3a"/>
<rect x="337.00" y="147.90" width="1.00" height="1.50" fill="#222"/>
<rect x="338.00" y="148.40" width="1.00" height="1.00" fill="#3a3a3a"/>
<rect x="339.00" y="148.40" width="1.00" height="1.00" fill="#3a3a3a"/>
<rect x="340.00" y="147.90" width="1.00" height="1.50" fill="#222"/>
<rect x="341.00" y="148.40" width="1.00" height="1.00" fill="#3a3a3a"/>
<rect x="343.00" y="148.40" width="1.00" height="1.00" fill="#3a3a3a"/>
<rect x="344.00" y="148.40" width="1.00" height="1.00" fill="#3a3a3a"/>
<rect x="345.00" y="147.40" width="1.00" height="2.00" fill="#222"/>
<rect x="346.00" y="148.40" width="1.00" height="1.00" fill="#3a3a3a"/>
<rect x="347.00" y="148.40" width="1.00" height="1.00" fill="#3a3a3a"/>
<rect x="348.00" y="148.40" width="1.00" height="1.00" fill="#3a3a3a"/>
<rect x="349.00" y="148.40" width="1.00" height="1.00" fill="#3a3a3a"/>
<rect x="351.00" y="147.90" width="1.00" height="1.50" fill="#222"/>
<rect x="352.00" y="148.40" width="1.00" height="1.00" fill="#3a3a3a"/>
<rect x="355.00" y="148.40" width="1.00" height="1.00" fill="#3a3a3a"/>
<rect x="356.00" y="148.40" width="1.00" height="1.00" fill="#3a3a3a"/>
<rect x="357.00" y="148.40" width="1.00" height="1.00" fill="#3a3a3a"/>
<rect x="358.00" y="148.40" width="1.00" height="1.00" fill="#3a3a3a"/>
<rect x="359.00" y="148.40" width="1.00" height="1.00" fill="#3a3a3a"/>
<rect x="360.00" y="148.40" width="1.00" height="1.00" fill="#3a3a3a"/>
<rect x="362.00" y="148.40" width="1.00" height="1.00" fill="#3a3a3a"/>
<rect x="363.00" y="148.40" width="1.00" height="1.00" fill="#3a3a3a"/>
<rect x="366.00" y="148.40" width="1.00" height="1.00" fill="#3a3a3a"/>
<rect x="368.00" y="147.40" width="1.00" height="2.00" fill="#222"/>
<rect x="369.00" y="148.40" width="1.00" height="1.00" fill="#3a3a3a"/>
<rect x="370.00" y="147.90" width="1.00" height="1.50" fill="#222"/>
<rect x="372.00" y="147.90" width="1.00" height="1.50" fill="#222"/>
<rect x="373.00" y="148.40" width="1.00" height="1.00" fill="#3a3a3a"/>
<rect x="374.00" y="148.40" width="1.00" height="1.00" fill="#3a3a3a"/>
<rect x="375.00" y="145.45" width="1.00" height="3.95" fill="#222"/>
<rect x="377.00" y="148.40" width="1.00" height="1.00" fill="#3a3a3a"/>
<rect x="378.00" y="147.40" width="1.00" height="2.00" fill="#222"/>
<rect x="380.00" y="148.40" width="1.00" height="1.00" fill="#3a3a3a"/>
<rect x="381.00" y="147.40" width="1.00" height="2.00" fill="#222"/>
<rect x="382.00" y="148.40" width="1.00" height="1.00" fill="#3a3a3a"/>
<rect x="383.00" y="148.40" width="1.00" height="1.00" fill="#3a3a3a"/>
<rect x="384.00" y="147.40" width="1.00" height="2.00" fill="#222"/>
<rect x="385.00" y="148.40" width="1.00" height="1.00" fill="#3a3a3a"/>
<rect x="386.00" y="148.40" width="1.00" height="1.00" fill="#3a3a3a"/>
<rect x="388.00" y="148.40" width="1.00" height="1.00" fill="#3a3a3a"/>
<rect x="390.00" y="148.40" width="1.00" height="1.00" fill="#3a3a3a"/>
<rect x="391.00" y="147.40" width="1.00" height="2.00" fill="#222"/>
<rect x="392.00" y="148.40" width="1.00" height="1.00" fill="#3a3a3a"/>
<rect x="393.00" y="147.90" width="1.00" height="1.50" fill="#222"/>
<rect x="395.00" y="148.40" width="1.00" height="1.00" fill="#3a3a3a"/>
<rect x="397.00" y="148.40" width="1.00" height="1.00" fill="#3a3a3a"/>
<rect x="398.00" y="148.40" width="1.00" height="1.00" fill="#3a3a3a"/>
<rect x="399.00" y="147.40" width="1.00" height="2.00" fill="#222"/>
<rect x="400.00" y="148.40" width="1.00" height="1.00" fill="#3a3a3a"/>
<rect x="401.00" y="148.40" width="1.00" height="1.00" fill="#3a3a3a"/>
<rect x="402.00" y="148.40" width="1.00" height="1.00" fill="#3a3a3a"/>
<rect x="405.00" y="148.40" width="1.00" height="1.00" fill="#3a3a3a"/>
<rect x="407.00" y="148.40" width="1.00" height="1.00" fill="#3a3a3a"/>
<rect x="408.00" y="148.40" width="1.00" height="1.00" fill="#3a3a3a"/>
<rect x="409.00" y="148.40" width="1.00" height="1.00" fill="#3a3a3a"/>
<rect x="411.00" y="147.40" width="1.00" height="2.00" fill="#222"/>
<rect x="412.00" y="148.40" width="1.00" height="1.00" fill="#3a3a3a"/>
<rect x="413.00" y="148.40" width="1.00" height="1.00" fill="#3a3a3a"/>
<rect x="414.00" y="147.90" width="1.00" height="1.50" fill="#222"/>
<rect x="415.00" y="148.40" width="1.00" height="1.00" fill="#3a3a3a"/>
<rect x="416.00" y="148.40" width="1.00" height="1.00" fill="#3a3a3a"/>
<rect x="417.00" y="148.40" width="1.00" height="1.00" fill="#3a3a3a"/>
<rect x="418.00" y="148.40" width="1.00" height="1.00" fill="#3a3a3a"/>
<rect x="419.00" y="148.40" width="1.00" height="1.00" fill="#3a3a3a"/>
<rect x="420.00" y="148.40" width="1.00" height="1.00" fill="#3a3a3a"/>
<rect x="422.00" y="148.40" width="1.00" height="1.00" fill="#3a3a3a"/>
<rect x="423.00" y="147.40" width="1.00" height="2.00" fill="#222"/>
<rect x="424.00" y="148.40" width="1.00" height="1.00" fill="#3a3a3a"/>
<rect x="426.00" y="148.40" width="1.00" height="1.00" fill="#3a3a3a"/>
<rect x="427.00" y="147.90" width="1.00" height="1.50" fill="#222"/>
<rect x="428.00" y="148.40" width="1.00" height="1.00" fill="#3a3a3a"/>
<rect x="429.00" y="148.40" width="1.00" height="1.00" fill="#3a3a3a"/>
<rect x="430.00" y="148.40" width="1.00" height="1.00" fill="#3a3a3a"/>
<rect x="431.00" y="147.40" width="1.00" height="2.00" fill="#222"/>
<rect x="432.00" y="147.90" width="1.00" height="1.50" fill="#222"/>
<rect x="433.00" y="148.40" width="1.00" height="1.00" fill="#3a3a3a"/>
<rect x="434.00" y="148.40" width="1.00" height="1.00" fill="#3a3a3a"/>
<rect x="435.00" y="148.40" width="1.00" height="1.00" fill="#3a3a3a"/>
<rect x="437.00" y="148.40" width="1.00" height="1.00" fill="#3a3a3a"/>
<rect x="438.00" y="148.40" width="1.00" height="1.00" fill="#3a3a3a"/>
<rect x="439.00" y="148.40" width="1.00" height="1.00" fill="#3a3a3a"/>
<rect x="440.00" y="148.40" width="1.00" height="1.00" fill="#3a3a3a"/>
<rect x="441.00" y="147.90" width="1.00" height="1.50" fill="#222"/>
<rect x="442.00" y="148.40" width="1.00" height="1.00" fill="#3a3a3a"/>
<rect x="443.00" y="148.40" width="1.00" height="1.00" fill="#3a3a3a"/>
<rect x="446.00" y="146.07" width="1.00" height="3.33" fill="#222"/>
<rect x="449.00" y="147.90" width="1.00" height="1.50" fill="#222"/>
<rect x="450.00" y="148.40" width="1.00" height="1.00" fill="#3a3a3a"/>
<rect x="451.00" y="148.40" width="1.00" height="1.00" fill="#3a3a3a"/>
<rect x="453.00" y="147.90" width="1.00" height="1.50" fill="#222"/>
<rect x="454.00" y="147.90" width="1.00" height="1.50" fill="#222"/>
<rect x="455.00" y="148.40" width="1.00" height="1.00" fill="#3a3a3a"/>
<rect x="456.00" y="148.40" width="1.00" height="1.00" fill="#3a3a3a"/>
<rect x="458.00" y="148.40" width="1.00" height="1.00" fill="#3a3a3a"/>
<rect x="459.00" y="147.90" width="1.00" height="1.50" fill="#222"/>
<rect x="460.00" y="148.40" width="1.00" height="1.00" fill="#3a3a3a"/>
<rect x="461.00" y="146.40" width="1.00" height="3.00" fill="#222"/>
<rect x="464.00" y="146.58" width="1.00" height="2.82" fill="#222"/>
<rect x="465.00" y="148.40" width="1.00" height="1.00" fill="#3a3a3a"/>
<rect x="468.00" y="148.40" width="1.00" height="1.00" fill="#3a3a3a"/>
<rect x="469.00" y="146.58" width="1.00" height="2.82" fill="#222"/>
<rect x="470.00" y="148.40" width="1.00" height="1.00" fill="#3a3a3a"/>
<rect x="471.00" y="148.40" width="1.00" height="1.00" fill="#3a3a3a"/>
<rect x="472.00" y="148.40" width="1.00" height="1.00" fill="#3a3a3a"/>
<rect x="473.00" y="147.40" width="1.00" height="2.00" fill="#222"/>
<rect x="474.00" y="148.40" width="1.00" height="1.00" fill="#3a3a3a"/>
<rect x="475.00" y="148.40" width="1.00" height="1.00" fill="#3a3a3a"/>
<rect x="476.00" y="148.40" width="1.00" height="1.00" fill="#3a3a3a"/>
<rect x="477.00" y="148.40" width="1.00" height="1.00" fill="#3a3a3a"/>
<rect x="479.00" y="148.40" width="1.00" height="1.00" fill="#3a3a3a"/>
<rect x="480.00" y="147.40" width="1.00" height="2.00" fill="#222"/>
<rect x="481.00" y="147.90" width="1.00" height="1.50" fill="#222"/>
<rect x="482.00" y="147.90" width="1.00" height="1.50" fill="#222"/>
<rect x="483.00" y="148.40" width="1.00" height="1.00" fill="#3a3a3a"/>
<rect x="484.00" y="147.90" width="1.00" height="1.50" fill="#222"/>
<rect x="485.00" y="147.40" width="1.00" height="2.00" fill="#222"/>
<rect x="486.00" y="145.97" width="1.00" height="3.43" fill="#222"/>
<rect x="487.00" y="148.40" width="1.00" height="1.00" fill="#3a3a3a"/>
<rect x="488.00" y="146.38" width="1.00" height="3.02" fill="#222"/>
<rect x="489.00" y="148.40" width="1.00" height="1.00" fill="#3a3a3a"/>
<rect x="490.00" y="148.40" width="1.00" height="1.00" fill="#3a3a3a"/>
<rect x="492.00" y="148.40" width="1.00" height="1.00" fill="#3a3a3a"/>
<rect x="493.00" y="148.40" width="1.00" height="1.00" fill="#3a3a3a"/>
<rect x="494.00" y="148.40" width="1.00" height="1.00" fill="#3a3a3a"/>
<rect x="495.00" y="147.40" width="1.00" height="2.00" fill="#222"/>
<rect x="496.00" y="148.40" width="1.00" height="1.00" fill="#3a3a3a"/>
<rect x="497.00" y="148.40" width="1.00" height="1.00" fill="#3a3a3a"/>
<rect x="498.00" y="148.40" width="1.00" height="1.00" fill="#3a3a3a"/>
<rect x="499.00" y="148.40" width="1.00" height="1.00" fill="#3a3a3a"/>
<rect x="507.00" y="147.40" width="1.00" height="2.00" fill="#222"/>
<rect x="509.00" y="148.40" width="1.00" height="1.00" fill="#3a3a3a"/>
<rect x="510.00" y="148.40" width="1.00" height="1.00" fill="#3a3a3a"/>
<line x1="53.75" y1="157.2" x2="53.75" y2="199.4" stroke="#111" stroke-width="1.3"/>
<line x1="53.75" y1="157.2" x2="55.25" y2="157.2" stroke="#111" stroke-width="1"/>
<line x1="53.75" y1="198.9" x2="55.25" y2="198.9" stroke="#111" stroke-width="1"/>
<text x="49.2" y="160.0" font-size="6.6" font-weight="bold" text-anchor="end" class="sb">50</text>
<text x="49.2" y="199.60000000000002" font-size="6.6" font-weight="bold" text-anchor="end" class="sb">0</text>
<text x="27.8" y="180.3" font-size="5.9" font-weight="bold" stroke="#000" stroke-width="0.4" textLength="14.7" lengthAdjust="spacing">HIF-1</text>
<text x="43.6" y="180.3" font-size="7.6" textLength="5.0" lengthAdjust="spacingAndGlyphs">β</text>
<line x1="301" y1="157.2" x2="301" y2="199.4" stroke="#111" stroke-width="1.3"/>
<line x1="301" y1="157.2" x2="302.5" y2="157.2" stroke="#111" stroke-width="1"/>
<line x1="301" y1="198.9" x2="302.5" y2="198.9" stroke="#111" stroke-width="1"/>
<text x="294.3" y="160.0" font-size="6.6" font-weight="bold" text-anchor="end" class="sb">50</text>
<text x="294.3" y="199.60000000000002" font-size="6.6" font-weight="bold" text-anchor="end" class="sb">0</text>
<rect x="58.00" y="197.90" width="1.00" height="1.00" fill="#3a3a3a"/>
<rect x="60.00" y="197.90" width="1.00" height="1.00" fill="#3a3a3a"/>
<rect x="61.00" y="197.90" width="1.00" height="1.00" fill="#3a3a3a"/>
<rect x="66.00" y="197.90" width="1.00" height="1.00" fill="#3a3a3a"/>
<rect x="67.00" y="197.90" width="1.00" height="1.00" fill="#3a3a3a"/>
<rect x="70.00" y="197.90" width="1.00" height="1.00" fill="#3a3a3a"/>
<rect x="71.00" y="197.90" width="1.00" height="1.00" fill="#3a3a3a"/>
<rect x="73.00" y="197.90" width="1.00" height="1.00" fill="#3a3a3a"/>
<rect x="77.00" y="197.90" width="1.00" height="1.00" fill="#3a3a3a"/>
<rect x="81.00" y="197.90" width="1.00" height="1.00" fill="#3a3a3a"/>
<rect x="82.00" y="197.90" width="1.00" height="1.00" fill="#3a3a3a"/>
<rect x="86.00" y="197.90" width="1.00" height="1.00" fill="#3a3a3a"/>
<rect x="91.00" y="197.90" width="1.00" height="1.00" fill="#3a3a3a"/>
<rect x="95.00" y="197.90" width="1.00" height="1.00" fill="#3a3a3a"/>
<rect x="99.00" y="197.90" width="1.00" height="1.00" fill="#3a3a3a"/>
<rect x="101.00" y="197.90" width="1.00" height="1.00" fill="#3a3a3a"/>
<rect x="103.00" y="197.90" width="1.00" height="1.00" fill="#3a3a3a"/>
<rect x="106.00" y="197.90" width="1.00" height="1.00" fill="#3a3a3a"/>
<rect x="112.00" y="194.98" width="1.00" height="3.92" fill="#222"/>
<rect x="116.00" y="197.90" width="1.00" height="1.00" fill="#3a3a3a"/>
<rect x="118.00" y="197.90" width="1.00" height="1.00" fill="#3a3a3a"/>
<rect x="120.00" y="197.90" width="1.00" height="1.00" fill="#3a3a3a"/>
<rect x="123.00" y="197.90" width="1.00" height="1.00" fill="#3a3a3a"/>
<rect x="127.00" y="197.90" width="1.00" height="1.00" fill="#3a3a3a"/>
<rect x="131.00" y="197.90" width="1.00" height="1.00" fill="#3a3a3a"/>
<rect x="132.00" y="197.90" width="1.00" height="1.00" fill="#3a3a3a"/>
<rect x="137.00" y="197.90" width="1.00" height="1.00" fill="#3a3a3a"/>
<rect x="138.00" y="197.90" width="1.00" height="1.00" fill="#3a3a3a"/>
<rect x="139.00" y="197.90" width="1.00" height="1.00" fill="#3a3a3a"/>
<rect x="141.00" y="197.90" width="1.00" height="1.00" fill="#3a3a3a"/>
<rect x="144.00" y="197.90" width="1.00" height="1.00" fill="#3a3a3a"/>
<rect x="149.00" y="197.90" width="1.00" height="1.00" fill="#3a3a3a"/>
<rect x="151.00" y="197.90" width="1.00" height="1.00" fill="#3a3a3a"/>
<rect x="153.00" y="197.90" width="1.00" height="1.00" fill="#3a3a3a"/>
<rect x="154.00" y="197.90" width="1.00" height="1.00" fill="#3a3a3a"/>
<rect x="158.00" y="197.90" width="1.00" height="1.00" fill="#3a3a3a"/>
<rect x="173.00" y="197.90" width="1.00" height="1.00" fill="#3a3a3a"/>
<rect x="182.00" y="197.90" width="1.00" height="1.00" fill="#3a3a3a"/>
<rect x="188.00" y="197.90" width="1.00" height="1.00" fill="#3a3a3a"/>
<rect x="189.00" y="197.90" width="1.00" height="1.00" fill="#3a3a3a"/>
<rect x="190.00" y="197.90" width="1.00" height="1.00" fill="#3a3a3a"/>
<rect x="191.00" y="197.40" width="1.00" height="1.50" fill="#222"/>
<rect x="196.00" y="197.90" width="1.00" height="1.00" fill="#3a3a3a"/>
<rect x="197.00" y="197.90" width="1.00" height="1.00" fill="#3a3a3a"/>
<rect x="205.00" y="197.90" width="1.00" height="1.00" fill="#3a3a3a"/>
<rect x="206.00" y="197.90" width="1.00" height="1.00" fill="#3a3a3a"/>
<rect x="208.00" y="197.90" width="1.00" height="1.00" fill="#3a3a3a"/>
<rect x="209.00" y="197.90" width="1.00" height="1.00" fill="#3a3a3a"/>
<rect x="211.00" y="197.90" width="1.00" height="1.00" fill="#3a3a3a"/>
<rect x="213.00" y="197.90" width="1.00" height="1.00" fill="#3a3a3a"/>
<rect x="218.00" y="197.90" width="1.00" height="1.00" fill="#3a3a3a"/>
<rect x="221.00" y="197.90" width="1.00" height="1.00" fill="#3a3a3a"/>
<rect x="222.00" y="197.90" width="1.00" height="1.00" fill="#3a3a3a"/>
<rect x="226.00" y="197.90" width="1.00" height="1.00" fill="#3a3a3a"/>
<rect x="229.00" y="197.90" width="1.00" height="1.00" fill="#3a3a3a"/>
<rect x="230.00" y="197.90" width="1.00" height="1.00" fill="#3a3a3a"/>
<rect x="249.00" y="196.90" width="1.00" height="2.00" fill="#222"/>
<rect x="303.00" y="197.90" width="1.00" height="1.00" fill="#3a3a3a"/>
<rect x="317.00" y="197.90" width="1.00" height="1.00" fill="#3a3a3a"/>
<rect x="320.00" y="197.90" width="1.00" height="1.00" fill="#3a3a3a"/>
<rect x="323.00" y="197.90" width="1.00" height="1.00" fill="#3a3a3a"/>
<rect x="324.00" y="197.90" width="1.00" height="1.00" fill="#3a3a3a"/>
<rect x="326.00" y="197.90" width="1.00" height="1.00" fill="#3a3a3a"/>
<rect x="327.00" y="197.90" width="1.00" height="1.00" fill="#3a3a3a"/>
<rect x="334.00" y="197.90" width="1.00" height="1.00" fill="#3a3a3a"/>
<rect x="336.00" y="197.90" width="1.00" height="1.00" fill="#3a3a3a"/>
<rect x="345.00" y="197.90" width="1.00" height="1.00" fill="#3a3a3a"/>
<rect x="349.00" y="197.40" width="1.00" height="1.50" fill="#222"/>
<rect x="351.00" y="197.90" width="1.00" height="1.00" fill="#3a3a3a"/>
<rect x="356.00" y="197.90" width="1.00" height="1.00" fill="#3a3a3a"/>
<rect x="370.00" y="197.90" width="1.00" height="1.00" fill="#3a3a3a"/>
<rect x="372.00" y="197.90" width="1.00" height="1.00" fill="#3a3a3a"/>
<rect x="375.00" y="197.90" width="1.00" height="1.00" fill="#3a3a3a"/>
<rect x="378.00" y="197.90" width="1.00" height="1.00" fill="#3a3a3a"/>
<rect x="380.00" y="196.90" width="1.00" height="2.00" fill="#222"/>
<rect x="381.00" y="197.90" width="1.00" height="1.00" fill="#3a3a3a"/>
<rect x="396.00" y="197.90" width="1.00" height="1.00" fill="#3a3a3a"/>
<rect x="397.00" y="197.90" width="1.00" height="1.00" fill="#3a3a3a"/>
<rect x="399.00" y="197.90" width="1.00" height="1.00" fill="#3a3a3a"/>
<rect x="406.00" y="197.90" width="1.00" height="1.00" fill="#3a3a3a"/>
<rect x="411.00" y="197.90" width="1.00" height="1.00" fill="#3a3a3a"/>
<rect x="412.00" y="197.90" width="1.00" height="1.00" fill="#3a3a3a"/>
<rect x="449.00" y="197.90" width="1.00" height="1.00" fill="#3a3a3a"/>
<rect x="452.00" y="197.90" width="1.00" height="1.00" fill="#3a3a3a"/>
<rect x="460.00" y="197.90" width="1.00" height="1.00" fill="#3a3a3a"/>
<rect x="465.00" y="197.90" width="1.00" height="1.00" fill="#3a3a3a"/>
<rect x="470.00" y="197.90" width="1.00" height="1.00" fill="#3a3a3a"/>
<rect x="478.00" y="197.90" width="1.00" height="1.00" fill="#3a3a3a"/>
<rect x="506.00" y="197.90" width="1.00" height="1.00" fill="#3a3a3a"/>
<rect x="507.00" y="197.90" width="1.00" height="1.00" fill="#3a3a3a"/>
<rect x="509.00" y="197.90" width="1.00" height="1.00" fill="#3a3a3a"/>
<rect x="236.35" y="75.80" width="1.5" height="24.80" fill="url(#pk)"/>
<rect x="244.65" y="88.50" width="1.5" height="12.10" fill="url(#pk)"/>
<rect x="219.20" y="96.50" width="1.00" height="4.10" fill="#333"/>
<rect x="87.00" y="96.60" width="1.20" height="4.00" fill="#222"/>
<rect x="236.25" y="125.00" width="1.5" height="24.40" fill="url(#pk)"/>
<rect x="244.25" y="125.00" width="1.5" height="24.40" fill="url(#pk)"/>
<rect x="232.40" y="140.70" width="1.2" height="8.70" fill="url(#pk)"/>
<rect x="236.25" y="178.80" width="1.5" height="20.10" fill="url(#pk)"/>
<rect x="244.25" y="184.20" width="1.5" height="14.70" fill="url(#pk)"/>
<rect x="219.10" y="190.40" width="1.2" height="8.50" fill="url(#pk)"/>
<rect x="340.20" y="69.60" width="1.6" height="31.00" fill="url(#pk)"/>
<rect x="340.20" y="111.70" width="1.6" height="37.70" fill="url(#pk)"/>
<rect x="340.20" y="167.50" width="1.6" height="31.40" fill="url(#pk)"/>
<text transform="translate(15,124) rotate(-90)" x="0" y="0" font-size="10.3" font-weight="bold" text-anchor="middle" >Reads per window</text>
<rect x="76.00" y="208.50" width="2.50" height="5.50" fill="#222"/>
<line x1="78.5" y1="211.2" x2="88.5" y2="211.2" stroke="#222" stroke-width="1.2"/>
<line x1="88.5" y1="209.5" x2="88.5" y2="213" stroke="#222" stroke-width="1"/>
<line x1="80" y1="210" x2="82" y2="211.2" stroke="#222" stroke-width="0.6"/>
<line x1="80" y1="212.4" x2="82" y2="211.2" stroke="#222" stroke-width="0.6"/>
<text x="94.6" y="214.1" font-size="8.5" font-weight="bold" textLength="28.0" lengthAdjust="spacingAndGlyphs" class="sb">ERRFI1</text>
<rect x="438.80" y="210.00" width="2.70" height="3.60" fill="#222"/>
<rect x="444.00" y="208.50" width="4.00" height="6.50" fill="#333"/>
<line x1="441.5" y1="211.8" x2="455.8" y2="211.8" stroke="#222" stroke-width="1.1"/>
<line x1="450" y1="209" x2="450" y2="214.5" stroke="#222" stroke-width="1"/>
<line x1="455.5" y1="209" x2="455.5" y2="214.5" stroke="#222" stroke-width="1"/>
<text x="398.8" y="214.1" font-size="8.5" font-weight="bold" textLength="34.2" lengthAdjust="spacingAndGlyphs" class="sb">ARRDC3</text>
<line x1="123.3" y1="221.3" x2="207.8" y2="221.3" stroke="#222" stroke-width="1.3"/>
<line x1="123.3" y1="218" x2="123.3" y2="225" stroke="#222" stroke-width="1"/>
<line x1="207.8" y1="218" x2="207.8" y2="225" stroke="#222" stroke-width="1"/>
<text x="161" y="230.8" font-size="6.6" class="sr">100 kb</text>
<line x1="347" y1="221.8" x2="458.2" y2="221.8" stroke="#222" stroke-width="1.3"/>
<line x1="347" y1="218.5" x2="347" y2="225.5" stroke="#222" stroke-width="1"/>
<line x1="458.2" y1="218.5" x2="458.2" y2="225.5" stroke="#222" stroke-width="1"/>
<text x="402" y="230.3" font-size="6.6" class="sr">100 kb</text>
<g class="ct">
<text x="4.20" y="267.00" font-size="16.5" font-weight="bold">C</text>
<line x1="68.75" y1="383.30" x2="68.75" y2="463.00" stroke="#c8c8c8" stroke-width="0.8"/>
<line x1="81.95" y1="383.30" x2="81.95" y2="434.40" stroke="#c8c8c8" stroke-width="0.8"/>
<line x1="95.14" y1="383.30" x2="95.14" y2="434.40" stroke="#c8c8c8" stroke-width="0.8"/>
<line x1="108.34" y1="383.30" x2="108.34" y2="434.40" stroke="#c8c8c8" stroke-width="0.8"/>
<line x1="121.54" y1="383.30" x2="121.54" y2="434.40" stroke="#c8c8c8" stroke-width="0.8"/>
<line x1="134.73" y1="383.30" x2="134.73" y2="463.00" stroke="#c8c8c8" stroke-width="0.8"/>
<line x1="147.93" y1="383.30" x2="147.93" y2="434.40" stroke="#c8c8c8" stroke-width="0.8"/>
<line x1="161.12" y1="383.30" x2="161.12" y2="434.40" stroke="#c8c8c8" stroke-width="0.8"/>
<line x1="174.32" y1="383.30" x2="174.32" y2="434.40" stroke="#c8c8c8" stroke-width="0.8"/>
<line x1="187.52" y1="383.30" x2="187.52" y2="434.40" stroke="#c8c8c8" stroke-width="0.8"/>
<line x1="200.71" y1="383.30" x2="200.71" y2="463.00" stroke="#c8c8c8" stroke-width="0.8"/>
<line x1="213.91" y1="383.30" x2="213.91" y2="434.40" stroke="#c8c8c8" stroke-width="0.8"/>
<line x1="227.11" y1="383.30" x2="227.11" y2="434.40" stroke="#c8c8c8" stroke-width="0.8"/>
<line x1="240.30" y1="383.30" x2="240.30" y2="434.40" stroke="#c8c8c8" stroke-width="0.8"/>
<line x1="253.50" y1="383.30" x2="253.50" y2="463.00" stroke="#c8c8c8" stroke-width="0.8"/>
<rect x="86.04" y="335.95" width="5.00" height="47.35" fill="#838383"/>
<rect x="99.24" y="336.45" width="5.00" height="46.85" fill="#838383"/>
<rect x="112.44" y="335.63" width="5.00" height="47.67" fill="#838383"/>
<rect x="152.03" y="324.50" width="5.00" height="58.80" fill="#838383"/>
<rect x="165.22" y="317.79" width="5.00" height="65.51" fill="#838383"/>
<rect x="178.42" y="318.79" width="5.00" height="64.51" fill="#838383"/>
<rect x="218.01" y="311.01" width="5.00" height="72.29" fill="#838383"/>
<rect x="231.21" y="304.10" width="5.00" height="79.20" fill="#838383"/>
<rect x="244.40" y="305.00" width="5.00" height="78.30" fill="#838383"/>
<line x1="88.54" y1="330.84" x2="88.54" y2="340.01" stroke="#000" stroke-width="1.15"/>
<line x1="86.34" y1="330.84" x2="90.74" y2="330.84" stroke="#000" stroke-width="1.1"/>
<line x1="86.34" y1="340.01" x2="90.74" y2="340.01" stroke="#000" stroke-width="1.1"/>
<line x1="101.74" y1="333.36" x2="101.74" y2="337.15" stroke="#000" stroke-width="1.15"/>
<line x1="99.54" y1="333.36" x2="103.94" y2="333.36" stroke="#000" stroke-width="1.1"/>
<line x1="99.54" y1="337.15" x2="103.94" y2="337.15" stroke="#000" stroke-width="1.1"/>
<line x1="114.94" y1="332.14" x2="114.94" y2="337.33" stroke="#000" stroke-width="1.15"/>
<line x1="112.74" y1="332.14" x2="117.14" y2="332.14" stroke="#000" stroke-width="1.1"/>
<line x1="112.74" y1="337.33" x2="117.14" y2="337.33" stroke="#000" stroke-width="1.1"/>
<line x1="154.53" y1="319.70" x2="154.53" y2="328.70" stroke="#000" stroke-width="1.15"/>
<line x1="152.33" y1="319.70" x2="156.73" y2="319.70" stroke="#000" stroke-width="1.1"/>
<line x1="152.33" y1="328.70" x2="156.73" y2="328.70" stroke="#000" stroke-width="1.1"/>
<line x1="167.72" y1="315.41" x2="167.72" y2="318.76" stroke="#000" stroke-width="1.15"/>
<line x1="165.52" y1="315.41" x2="169.92" y2="315.41" stroke="#000" stroke-width="1.1"/>
<line x1="165.52" y1="318.76" x2="169.92" y2="318.76" stroke="#000" stroke-width="1.1"/>
<line x1="180.92" y1="315.89" x2="180.92" y2="320.21" stroke="#000" stroke-width="1.15"/>
<line x1="178.72" y1="315.89" x2="183.12" y2="315.89" stroke="#000" stroke-width="1.1"/>
<line x1="178.72" y1="320.21" x2="183.12" y2="320.21" stroke="#000" stroke-width="1.1"/>
<line x1="220.51" y1="305.80" x2="220.51" y2="315.31" stroke="#000" stroke-width="1.15"/>
<line x1="218.31" y1="305.80" x2="222.71" y2="305.80" stroke="#000" stroke-width="1.1"/>
<line x1="218.31" y1="315.31" x2="222.71" y2="315.31" stroke="#000" stroke-width="1.1"/>
<line x1="233.71" y1="301.49" x2="233.71" y2="305.20" stroke="#000" stroke-width="1.15"/>
<line x1="231.51" y1="301.49" x2="235.91" y2="301.49" stroke="#000" stroke-width="1.1"/>
<line x1="231.51" y1="305.20" x2="235.91" y2="305.20" stroke="#000" stroke-width="1.1"/>
<line x1="246.90" y1="302.60" x2="246.90" y2="306.21" stroke="#000" stroke-width="1.15"/>
<line x1="244.70" y1="302.60" x2="249.10" y2="302.60" stroke="#000" stroke-width="1.1"/>
<line x1="244.70" y1="306.21" x2="249.10" y2="306.21" stroke="#000" stroke-width="1.1"/>
<line x1="75.35" y1="373.05" x2="75.35" y2="383.30" stroke="#000" stroke-width="1.15"/>
<line x1="73.15" y1="373.05" x2="77.55" y2="373.05" stroke="#000" stroke-width="1.1"/>
<line x1="73.15" y1="383.30" x2="77.55" y2="383.30" stroke="#000" stroke-width="1.1"/>
<line x1="141.33" y1="364.86" x2="141.33" y2="383.30" stroke="#000" stroke-width="1.15"/>
<line x1="139.13" y1="364.86" x2="143.53" y2="364.86" stroke="#000" stroke-width="1.1"/>
<line x1="139.13" y1="383.30" x2="143.53" y2="383.30" stroke="#000" stroke-width="1.1"/>
<line x1="207.31" y1="375.55" x2="207.31" y2="383.30" stroke="#000" stroke-width="1.15"/>
<line x1="205.11" y1="375.55" x2="209.51" y2="375.55" stroke="#000" stroke-width="1.1"/>
<line x1="205.11" y1="383.30" x2="209.51" y2="383.30" stroke="#000" stroke-width="1.1"/>
<polyline points="68.15,280.30 253.50,280.30 253.50,383.30" fill="none" stroke="#383838" stroke-width="1.2"/>
<line x1="68.75" y1="280.30" x2="68.75" y2="383.30" stroke="#9a9a9a" stroke-width="1.2"/>
<line x1="68.75" y1="383.30" x2="253.50" y2="383.30" stroke="#9a9a9a" stroke-width="1.2"/>
<line x1="65.75" y1="383.30" x2="68.75" y2="383.30" stroke="#9a9a9a" stroke-width="0.8"/>
<text x="58.40" y="387.80" font-size="10.4" text-anchor="end">1</text>
<line x1="65.75" y1="357.55" x2="68.75" y2="357.55" stroke="#9a9a9a" stroke-width="0.8"/>
<text x="58.40" y="362.05" font-size="10.4" text-anchor="end">10</text>
<line x1="65.75" y1="331.80" x2="68.75" y2="331.80" stroke="#9a9a9a" stroke-width="0.8"/>
<text x="58.40" y="336.30" font-size="10.4" text-anchor="end">100</text>
<line x1="65.75" y1="306.05" x2="68.75" y2="306.05" stroke="#9a9a9a" stroke-width="0.8"/>
<text x="58.40" y="310.55" font-size="10.4" text-anchor="end">1000</text>
<line x1="65.75" y1="280.30" x2="68.75" y2="280.30" stroke="#9a9a9a" stroke-width="0.8"/>
<text x="58.40" y="284.80" font-size="10.4" text-anchor="end">10000</text>
<text transform="translate(79.85,393.70) rotate(-90)" font-size="8.4" text-anchor="end" textLength="33.8" lengthAdjust="spacingAndGlyphs">pre-imm</text>
<text transform="translate(93.04,393.70) rotate(-90)" font-size="8.4" text-anchor="end" textLength="21.8" lengthAdjust="spacingAndGlyphs">HIF1a</text>
<text transform="translate(106.24,393.70) rotate(-90)" font-size="8.4" text-anchor="end" textLength="21.8" lengthAdjust="spacingAndGlyphs">HIF2a</text>
<text transform="translate(119.44,393.70) rotate(-90)" font-size="8.4" text-anchor="end" textLength="21.8" lengthAdjust="spacingAndGlyphs">HIF1b</text>
<text transform="translate(145.83,393.70) rotate(-90)" font-size="8.4" text-anchor="end" textLength="33.8" lengthAdjust="spacingAndGlyphs">pre-imm</text>
<text transform="translate(159.03,393.70) rotate(-90)" font-size="8.4" text-anchor="end" textLength="21.8" lengthAdjust="spacingAndGlyphs">HIF1a</text>
<text transform="translate(172.22,393.70) rotate(-90)" font-size="8.4" text-anchor="end" textLength="21.8" lengthAdjust="spacingAndGlyphs">HIF2a</text>
<text transform="translate(185.42,393.70) rotate(-90)" font-size="8.4" text-anchor="end" textLength="21.8" lengthAdjust="spacingAndGlyphs">HIF1b</text>
<text transform="translate(211.81,393.70) rotate(-90)" font-size="8.4" text-anchor="end" textLength="33.8" lengthAdjust="spacingAndGlyphs">pre-imm</text>
<text transform="translate(225.01,393.70) rotate(-90)" font-size="8.4" text-anchor="end" textLength="21.8" lengthAdjust="spacingAndGlyphs">HIF1a</text>
<text transform="translate(238.21,393.70) rotate(-90)" font-size="8.4" text-anchor="end" textLength="21.8" lengthAdjust="spacingAndGlyphs">HIF2a</text>
<text transform="translate(251.40,393.70) rotate(-90)" font-size="8.4" text-anchor="end" textLength="21.8" lengthAdjust="spacingAndGlyphs">HIF1b</text>
<text x="101.10" y="455.10" font-size="10" text-anchor="middle" textLength="50.2" lengthAdjust="spacingAndGlyphs">ERRFI1 site 1</text>
<text x="167.10" y="455.10" font-size="10" text-anchor="middle" textLength="50.2" lengthAdjust="spacingAndGlyphs">ERRFI1 site 2</text>
<text x="226.80" y="455.10" font-size="10" text-anchor="middle" textLength="49.6" lengthAdjust="spacingAndGlyphs">ARRDC3 site</text>
<text transform="translate(15.30,337.20) rotate(-90)" font-size="9.2" font-weight="bold" text-anchor="middle" textLength="119" lengthAdjust="spacingAndGlyphs">Fold enrichment (HIF ChIP</text>
<text transform="translate(27.20,336.80) rotate(-90)" font-size="9.2" font-weight="bold" text-anchor="middle" textLength="71.5" lengthAdjust="spacingAndGlyphs">vs control ChIP)</text>
<text x="280.00" y="267.50" font-size="16.5" font-weight="bold">D</text>
<rect x="350.25" y="408.57" width="25.80" height="20.83" fill="#c3c3c3"/>
<rect x="376.05" y="321.09" width="25.80" height="108.31" fill="#838383"/>
<line x1="363.15" y1="407.11" x2="363.15" y2="410.03" stroke="#000" stroke-width="1.15"/>
<line x1="360.75" y1="407.11" x2="365.55" y2="407.11" stroke="#000" stroke-width="1.1"/>
<line x1="360.75" y1="410.03" x2="365.55" y2="410.03" stroke="#000" stroke-width="1.1"/>
<line x1="388.95" y1="298.18" x2="388.95" y2="342.96" stroke="#000" stroke-width="1.15"/>
<line x1="386.55" y1="298.18" x2="391.35" y2="298.18" stroke="#000" stroke-width="1.1"/>
<line x1="386.55" y1="342.96" x2="391.35" y2="342.96" stroke="#000" stroke-width="1.1"/>
<rect x="441.75" y="408.57" width="25.80" height="20.83" fill="#c3c3c3"/>
<rect x="467.55" y="342.54" width="25.80" height="86.86" fill="#838383"/>
<line x1="454.65" y1="400.24" x2="454.65" y2="417.53" stroke="#000" stroke-width="1.15"/>
<line x1="452.25" y1="400.24" x2="457.05" y2="400.24" stroke="#000" stroke-width="1.1"/>
<line x1="452.25" y1="417.53" x2="457.05" y2="417.53" stroke="#000" stroke-width="1.1"/>
<line x1="480.45" y1="321.09" x2="480.45" y2="363.79" stroke="#000" stroke-width="1.15"/>
<line x1="478.05" y1="321.09" x2="482.85" y2="321.09" stroke="#000" stroke-width="1.1"/>
<line x1="478.05" y1="363.79" x2="482.85" y2="363.79" stroke="#000" stroke-width="1.1"/>
<polyline points="329.70,283.60 513.30,283.60 513.30,429.40" fill="none" stroke="#383838" stroke-width="1.2"/>
<line x1="330.30" y1="283.60" x2="330.30" y2="429.40" stroke="#9a9a9a" stroke-width="1.2"/>
<line x1="330.30" y1="429.40" x2="513.30" y2="429.40" stroke="#9a9a9a" stroke-width="1.2"/>
<line x1="327.10" y1="429.40" x2="330.30" y2="429.40" stroke="#9a9a9a" stroke-width="0.8"/>
<text x="320.20" y="433.90" font-size="10.4" text-anchor="end">0</text>
<line x1="327.10" y1="408.57" x2="330.30" y2="408.57" stroke="#9a9a9a" stroke-width="0.8"/>
<text x="320.20" y="413.07" font-size="10.4" text-anchor="end">1</text>
<line x1="327.10" y1="387.74" x2="330.30" y2="387.74" stroke="#9a9a9a" stroke-width="0.8"/>
<text x="320.20" y="392.24" font-size="10.4" text-anchor="end">2</text>
<line x1="327.10" y1="366.91" x2="330.30" y2="366.91" stroke="#9a9a9a" stroke-width="0.8"/>
<text x="320.20" y="371.41" font-size="10.4" text-anchor="end">3</text>
<line x1="327.10" y1="346.09" x2="330.30" y2="346.09" stroke="#9a9a9a" stroke-width="0.8"/>
<text x="320.20" y="350.59" font-size="10.4" text-anchor="end">4</text>
<line x1="327.10" y1="325.26" x2="330.30" y2="325.26" stroke="#9a9a9a" stroke-width="0.8"/>
<text x="320.20" y="329.76" font-size="10.4" text-anchor="end">5</text>
<line x1="327.10" y1="304.43" x2="330.30" y2="304.43" stroke="#9a9a9a" stroke-width="0.8"/>
<text x="320.20" y="308.93" font-size="10.4" text-anchor="end">6</text>
<line x1="327.10" y1="283.60" x2="330.30" y2="283.60" stroke="#9a9a9a" stroke-width="0.8"/>
<text x="320.20" y="288.10" font-size="10.4" text-anchor="end">7</text>
<line x1="330.30" y1="429.40" x2="330.30" y2="432.90" stroke="#9a9a9a" stroke-width="0.8"/>
<line x1="421.80" y1="429.40" x2="421.80" y2="432.90" stroke="#9a9a9a" stroke-width="0.8"/>
<line x1="513.30" y1="429.40" x2="513.30" y2="432.90" stroke="#9a9a9a" stroke-width="0.8"/>
<text x="375.75" y="451.10" font-size="10" text-anchor="middle" textLength="29.5" lengthAdjust="spacingAndGlyphs">ERRFI1</text>
<text x="467.50" y="451.10" font-size="10" text-anchor="middle" textLength="36.4" lengthAdjust="spacingAndGlyphs">ARRDC3</text>
<rect x="425.00" y="302.60" width="5.50" height="5.50" fill="#c3c3c3"/>
<rect x="425.00" y="323.00" width="5.50" height="5.50" fill="#838383"/>
<text x="433.80" y="309.70" font-size="10.3" textLength="42.5" lengthAdjust="spacingAndGlyphs">normoxia</text>
<text x="433.80" y="329.90" font-size="10.3" textLength="34.2" lengthAdjust="spacingAndGlyphs">hypoxia</text>
<text transform="translate(303.20,356.40) rotate(-90)" font-size="9.2" font-weight="bold" text-anchor="middle" textLength="71" lengthAdjust="spacingAndGlyphs">Fold expression</text>
<text x="5.60" y="496.50" font-size="16.5" font-weight="bold">E</text>
<rect x="77.13" y="629.05" width="13.30" height="2.45" fill="#c3c3c3"/>
<rect x="90.43" y="628.56" width="13.30" height="2.94" fill="#838383"/>
<line x1="83.78" y1="628.02" x2="83.78" y2="630.62" stroke="#000" stroke-width="1.15"/>
<line x1="81.48" y1="628.02" x2="86.08" y2="628.02" stroke="#000" stroke-width="1.1"/>
<line x1="81.48" y1="630.62" x2="86.08" y2="630.62" stroke="#000" stroke-width="1.1"/>
<line x1="97.08" y1="626.70" x2="97.08" y2="631.01" stroke="#000" stroke-width="1.15"/>
<line x1="94.78" y1="626.70" x2="99.38" y2="626.70" stroke="#000" stroke-width="1.1"/>
<line x1="94.78" y1="631.01" x2="99.38" y2="631.01" stroke="#000" stroke-width="1.1"/>
<rect x="123.58" y="621.21" width="13.30" height="10.29" fill="#c3c3c3"/>
<rect x="136.88" y="582.50" width="13.30" height="49.00" fill="#838383"/>
<line x1="130.22" y1="616.31" x2="130.22" y2="626.11" stroke="#000" stroke-width="1.15"/>
<line x1="127.92" y1="616.31" x2="132.53" y2="616.31" stroke="#000" stroke-width="1.1"/>
<line x1="127.92" y1="626.11" x2="132.53" y2="626.11" stroke="#000" stroke-width="1.1"/>
<line x1="143.53" y1="571.23" x2="143.53" y2="593.77" stroke="#000" stroke-width="1.15"/>
<line x1="141.22" y1="571.23" x2="145.83" y2="571.23" stroke="#000" stroke-width="1.1"/>
<line x1="141.22" y1="593.77" x2="145.83" y2="593.77" stroke="#000" stroke-width="1.1"/>
<rect x="170.02" y="626.11" width="13.30" height="5.39" fill="#c3c3c3"/>
<rect x="183.32" y="616.31" width="13.30" height="15.19" fill="#838383"/>
<line x1="176.67" y1="623.17" x2="176.67" y2="628.41" stroke="#000" stroke-width="1.15"/>
<line x1="174.37" y1="623.17" x2="178.97" y2="623.17" stroke="#000" stroke-width="1.1"/>
<line x1="174.37" y1="628.41" x2="178.97" y2="628.41" stroke="#000" stroke-width="1.1"/>
<line x1="189.97" y1="607.98" x2="189.97" y2="624.64" stroke="#000" stroke-width="1.15"/>
<line x1="187.67" y1="607.98" x2="192.28" y2="607.98" stroke="#000" stroke-width="1.1"/>
<line x1="187.67" y1="624.64" x2="192.28" y2="624.64" stroke="#000" stroke-width="1.1"/>
<rect x="216.48" y="622.68" width="13.30" height="8.82" fill="#c3c3c3"/>
<rect x="229.78" y="535.95" width="13.30" height="95.55" fill="#838383"/>
<line x1="223.13" y1="615.33" x2="223.13" y2="629.88" stroke="#000" stroke-width="1.15"/>
<line x1="220.83" y1="615.33" x2="225.43" y2="615.33" stroke="#000" stroke-width="1.1"/>
<line x1="220.83" y1="629.88" x2="225.43" y2="629.88" stroke="#000" stroke-width="1.1"/>
<line x1="236.43" y1="520.51" x2="236.43" y2="551.14" stroke="#000" stroke-width="1.15"/>
<line x1="234.13" y1="520.51" x2="238.73" y2="520.51" stroke="#000" stroke-width="1.1"/>
<line x1="234.13" y1="551.14" x2="238.73" y2="551.14" stroke="#000" stroke-width="1.1"/>
<polyline points="66.60,509.00 253.00,509.00 253.00,631.50" fill="none" stroke="#383838" stroke-width="1.2"/>
<line x1="67.20" y1="509.00" x2="67.20" y2="631.50" stroke="#9a9a9a" stroke-width="1.2"/>
<line x1="67.20" y1="631.50" x2="253.00" y2="631.50" stroke="#9a9a9a" stroke-width="1.2"/>
<line x1="64.00" y1="631.50" x2="67.20" y2="631.50" stroke="#9a9a9a" stroke-width="0.8"/>
<text x="56.20" y="636.00" font-size="10.4" text-anchor="end">0</text>
<line x1="64.00" y1="607.00" x2="67.20" y2="607.00" stroke="#9a9a9a" stroke-width="0.8"/>
<text x="56.20" y="611.50" font-size="10.4" text-anchor="end">0.05</text>
<line x1="64.00" y1="582.50" x2="67.20" y2="582.50" stroke="#9a9a9a" stroke-width="0.8"/>
<text x="56.20" y="587.00" font-size="10.4" text-anchor="end">0.1</text>
<line x1="64.00" y1="558.00" x2="67.20" y2="558.00" stroke="#9a9a9a" stroke-width="0.8"/>
<text x="56.20" y="562.50" font-size="10.4" text-anchor="end">0.15</text>
<line x1="64.00" y1="533.50" x2="67.20" y2="533.50" stroke="#9a9a9a" stroke-width="0.8"/>
<text x="56.20" y="538.00" font-size="10.4" text-anchor="end">0.2</text>
<line x1="64.00" y1="509.00" x2="67.20" y2="509.00" stroke="#9a9a9a" stroke-width="0.8"/>
<text x="56.20" y="513.50" font-size="10.4" text-anchor="end">0.25</text>
<line x1="67.20" y1="631.50" x2="67.20" y2="635.00" stroke="#9a9a9a" stroke-width="0.8"/>
<line x1="113.65" y1="631.50" x2="113.65" y2="635.00" stroke="#9a9a9a" stroke-width="0.8"/>
<line x1="160.10" y1="631.50" x2="160.10" y2="635.00" stroke="#9a9a9a" stroke-width="0.8"/>
<line x1="206.55" y1="631.50" x2="206.55" y2="635.00" stroke="#9a9a9a" stroke-width="0.8"/>
<line x1="253.00" y1="631.50" x2="253.00" y2="635.00" stroke="#9a9a9a" stroke-width="0.8"/>
<text x="90.05" y="653.60" font-size="10" text-anchor="middle" textLength="31.7" lengthAdjust="spacingAndGlyphs">control</text>
<text x="137.00" y="653.40" font-size="10" text-anchor="middle" textLength="29.7" lengthAdjust="spacingAndGlyphs">ERRFI1</text>
<text x="137.20" y="666.40" font-size="10" text-anchor="middle" textLength="38.3" lengthAdjust="spacingAndGlyphs">HIFbind1</text>
<text x="183.50" y="653.40" font-size="10" text-anchor="middle" textLength="29.6" lengthAdjust="spacingAndGlyphs">ERRFI1</text>
<text x="183.40" y="666.40" font-size="10" text-anchor="middle" textLength="38.9" lengthAdjust="spacingAndGlyphs">HIFbind2</text>
<text x="229.65" y="653.20" font-size="10" text-anchor="middle" textLength="36.3" lengthAdjust="spacingAndGlyphs">ARRDC3</text>
<rect x="140.80" y="522.80" width="5.60" height="5.60" fill="#c3c3c3"/>
<rect x="140.80" y="542.50" width="5.60" height="5.60" fill="#838383"/>
<text x="150.20" y="529.80" font-size="10.3" textLength="41.4" lengthAdjust="spacingAndGlyphs">normoxia</text>
<text x="150.20" y="548.60" font-size="10.3" textLength="33.6" lengthAdjust="spacingAndGlyphs">hypoxia</text>
<text transform="translate(12.00,570.60) rotate(-90)" font-size="9.2" font-weight="bold" text-anchor="middle" textLength="78.7" lengthAdjust="spacingAndGlyphs">RNA Pol2 binding</text>
<text transform="translate(25.60,571.00) rotate(-90)" font-size="9.2" font-weight="bold" text-anchor="middle" textLength="54.8" lengthAdjust="spacingAndGlyphs">(% of input)</text>
<text x="281.80" y="496.40" font-size="16.5" font-weight="bold">F</text>
<rect x="342.80" y="627.20" width="17.30" height="7.00" fill="#c3c3c3"/>
<rect x="360.10" y="623.35" width="17.30" height="10.85" fill="#838383"/>
<line x1="351.45" y1="626.64" x2="351.45" y2="627.76" stroke="#000" stroke-width="1.15"/>
<line x1="349.15" y1="626.64" x2="353.75" y2="626.64" stroke="#000" stroke-width="1.1"/>
<line x1="349.15" y1="627.76" x2="353.75" y2="627.76" stroke="#000" stroke-width="1.1"/>
<line x1="368.75" y1="621.60" x2="368.75" y2="625.10" stroke="#000" stroke-width="1.15"/>
<line x1="366.45" y1="621.60" x2="371.05" y2="621.60" stroke="#000" stroke-width="1.1"/>
<line x1="366.45" y1="625.10" x2="371.05" y2="625.10" stroke="#000" stroke-width="1.1"/>
<rect x="403.40" y="627.20" width="17.30" height="7.00" fill="#c3c3c3"/>
<rect x="420.70" y="588.00" width="17.30" height="46.20" fill="#838383"/>
<line x1="412.05" y1="626.71" x2="412.05" y2="627.69" stroke="#000" stroke-width="1.15"/>
<line x1="409.75" y1="626.71" x2="414.35" y2="626.71" stroke="#000" stroke-width="1.1"/>
<line x1="409.75" y1="627.69" x2="414.35" y2="627.69" stroke="#000" stroke-width="1.1"/>
<line x1="429.35" y1="580.65" x2="429.35" y2="595.00" stroke="#000" stroke-width="1.15"/>
<line x1="427.05" y1="580.65" x2="431.65" y2="580.65" stroke="#000" stroke-width="1.1"/>
<line x1="427.05" y1="595.00" x2="431.65" y2="595.00" stroke="#000" stroke-width="1.1"/>
<rect x="464.00" y="627.20" width="17.30" height="7.00" fill="#c3c3c3"/>
<rect x="481.30" y="540.05" width="17.30" height="94.15" fill="#838383"/>
<line x1="472.65" y1="626.71" x2="472.65" y2="627.69" stroke="#000" stroke-width="1.15"/>
<line x1="470.35" y1="626.71" x2="474.95" y2="626.71" stroke="#000" stroke-width="1.1"/>
<line x1="470.35" y1="627.69" x2="474.95" y2="627.69" stroke="#000" stroke-width="1.1"/>
<line x1="489.95" y1="524.30" x2="489.95" y2="555.10" stroke="#000" stroke-width="1.15"/>
<line x1="487.65" y1="524.30" x2="492.25" y2="524.30" stroke="#000" stroke-width="1.1"/>
<line x1="487.65" y1="555.10" x2="492.25" y2="555.10" stroke="#000" stroke-width="1.1"/>
<polyline points="329.20,508.20 511.60,508.20 511.60,634.20" fill="none" stroke="#383838" stroke-width="1.2"/>
<line x1="329.80" y1="508.20" x2="329.80" y2="634.20" stroke="#9a9a9a" stroke-width="1.2"/>
<line x1="329.80" y1="634.20" x2="511.60" y2="634.20" stroke="#9a9a9a" stroke-width="1.2"/>
<line x1="326.60" y1="634.20" x2="329.80" y2="634.20" stroke="#9a9a9a" stroke-width="0.8"/>
<text x="319.20" y="638.70" font-size="10.4" text-anchor="end">0</text>
<line x1="326.60" y1="620.20" x2="329.80" y2="620.20" stroke="#9a9a9a" stroke-width="0.8"/>
<text x="319.20" y="624.70" font-size="10.4" text-anchor="end">2</text>
<line x1="326.60" y1="606.20" x2="329.80" y2="606.20" stroke="#9a9a9a" stroke-width="0.8"/>
<text x="319.20" y="610.70" font-size="10.4" text-anchor="end">4</text>
<line x1="326.60" y1="592.20" x2="329.80" y2="592.20" stroke="#9a9a9a" stroke-width="0.8"/>
<text x="319.20" y="596.70" font-size="10.4" text-anchor="end">6</text>
<line x1="326.60" y1="578.20" x2="329.80" y2="578.20" stroke="#9a9a9a" stroke-width="0.8"/>
<text x="319.20" y="582.70" font-size="10.4" text-anchor="end">8</text>
<line x1="326.60" y1="564.20" x2="329.80" y2="564.20" stroke="#9a9a9a" stroke-width="0.8"/>
<text x="319.20" y="568.70" font-size="10.4" text-anchor="end">10</text>
<line x1="326.60" y1="550.20" x2="329.80" y2="550.20" stroke="#9a9a9a" stroke-width="0.8"/>
<text x="319.20" y="554.70" font-size="10.4" text-anchor="end">12</text>
<line x1="326.60" y1="536.20" x2="329.80" y2="536.20" stroke="#9a9a9a" stroke-width="0.8"/>
<text x="319.20" y="540.70" font-size="10.4" text-anchor="end">14</text>
<line x1="326.60" y1="522.20" x2="329.80" y2="522.20" stroke="#9a9a9a" stroke-width="0.8"/>
<text x="319.20" y="526.70" font-size="10.4" text-anchor="end">16</text>
<line x1="326.60" y1="508.20" x2="329.80" y2="508.20" stroke="#9a9a9a" stroke-width="0.8"/>
<text x="319.20" y="512.70" font-size="10.4" text-anchor="end">18</text>
<line x1="329.80" y1="634.20" x2="329.80" y2="637.70" stroke="#9a9a9a" stroke-width="0.8"/>
<line x1="390.40" y1="634.20" x2="390.40" y2="637.70" stroke="#9a9a9a" stroke-width="0.8"/>
<line x1="451.00" y1="634.20" x2="451.00" y2="637.70" stroke="#9a9a9a" stroke-width="0.8"/>
<line x1="511.60" y1="634.20" x2="511.60" y2="637.70" stroke="#9a9a9a" stroke-width="0.8"/>
<text x="360.05" y="655.70" font-size="10" text-anchor="middle" textLength="31.7" lengthAdjust="spacingAndGlyphs">control</text>
<text x="420.50" y="655.50" font-size="10" text-anchor="middle" textLength="41" lengthAdjust="spacingAndGlyphs">ERRFI1_1</text>
<text x="481.10" y="655.50" font-size="10" text-anchor="middle" textLength="36.2" lengthAdjust="spacingAndGlyphs">ARRDC3</text>
<rect x="346.80" y="528.30" width="5.60" height="5.60" fill="#c3c3c3"/>
<rect x="346.80" y="548.20" width="5.60" height="5.60" fill="#838383"/>
<text x="355.90" y="534.50" font-size="10.3" textLength="42" lengthAdjust="spacingAndGlyphs">normoxia</text>
<text x="355.90" y="554.70" font-size="10.3" textLength="34.2" lengthAdjust="spacingAndGlyphs">hypoxia</text>
<text transform="translate(298.20,570.90) rotate(-90)" font-size="9.4" font-weight="bold" text-anchor="middle" textLength="118.7" lengthAdjust="spacingAndGlyphs">relative luciferase activity</text>
</g>
</svg></body></html>
